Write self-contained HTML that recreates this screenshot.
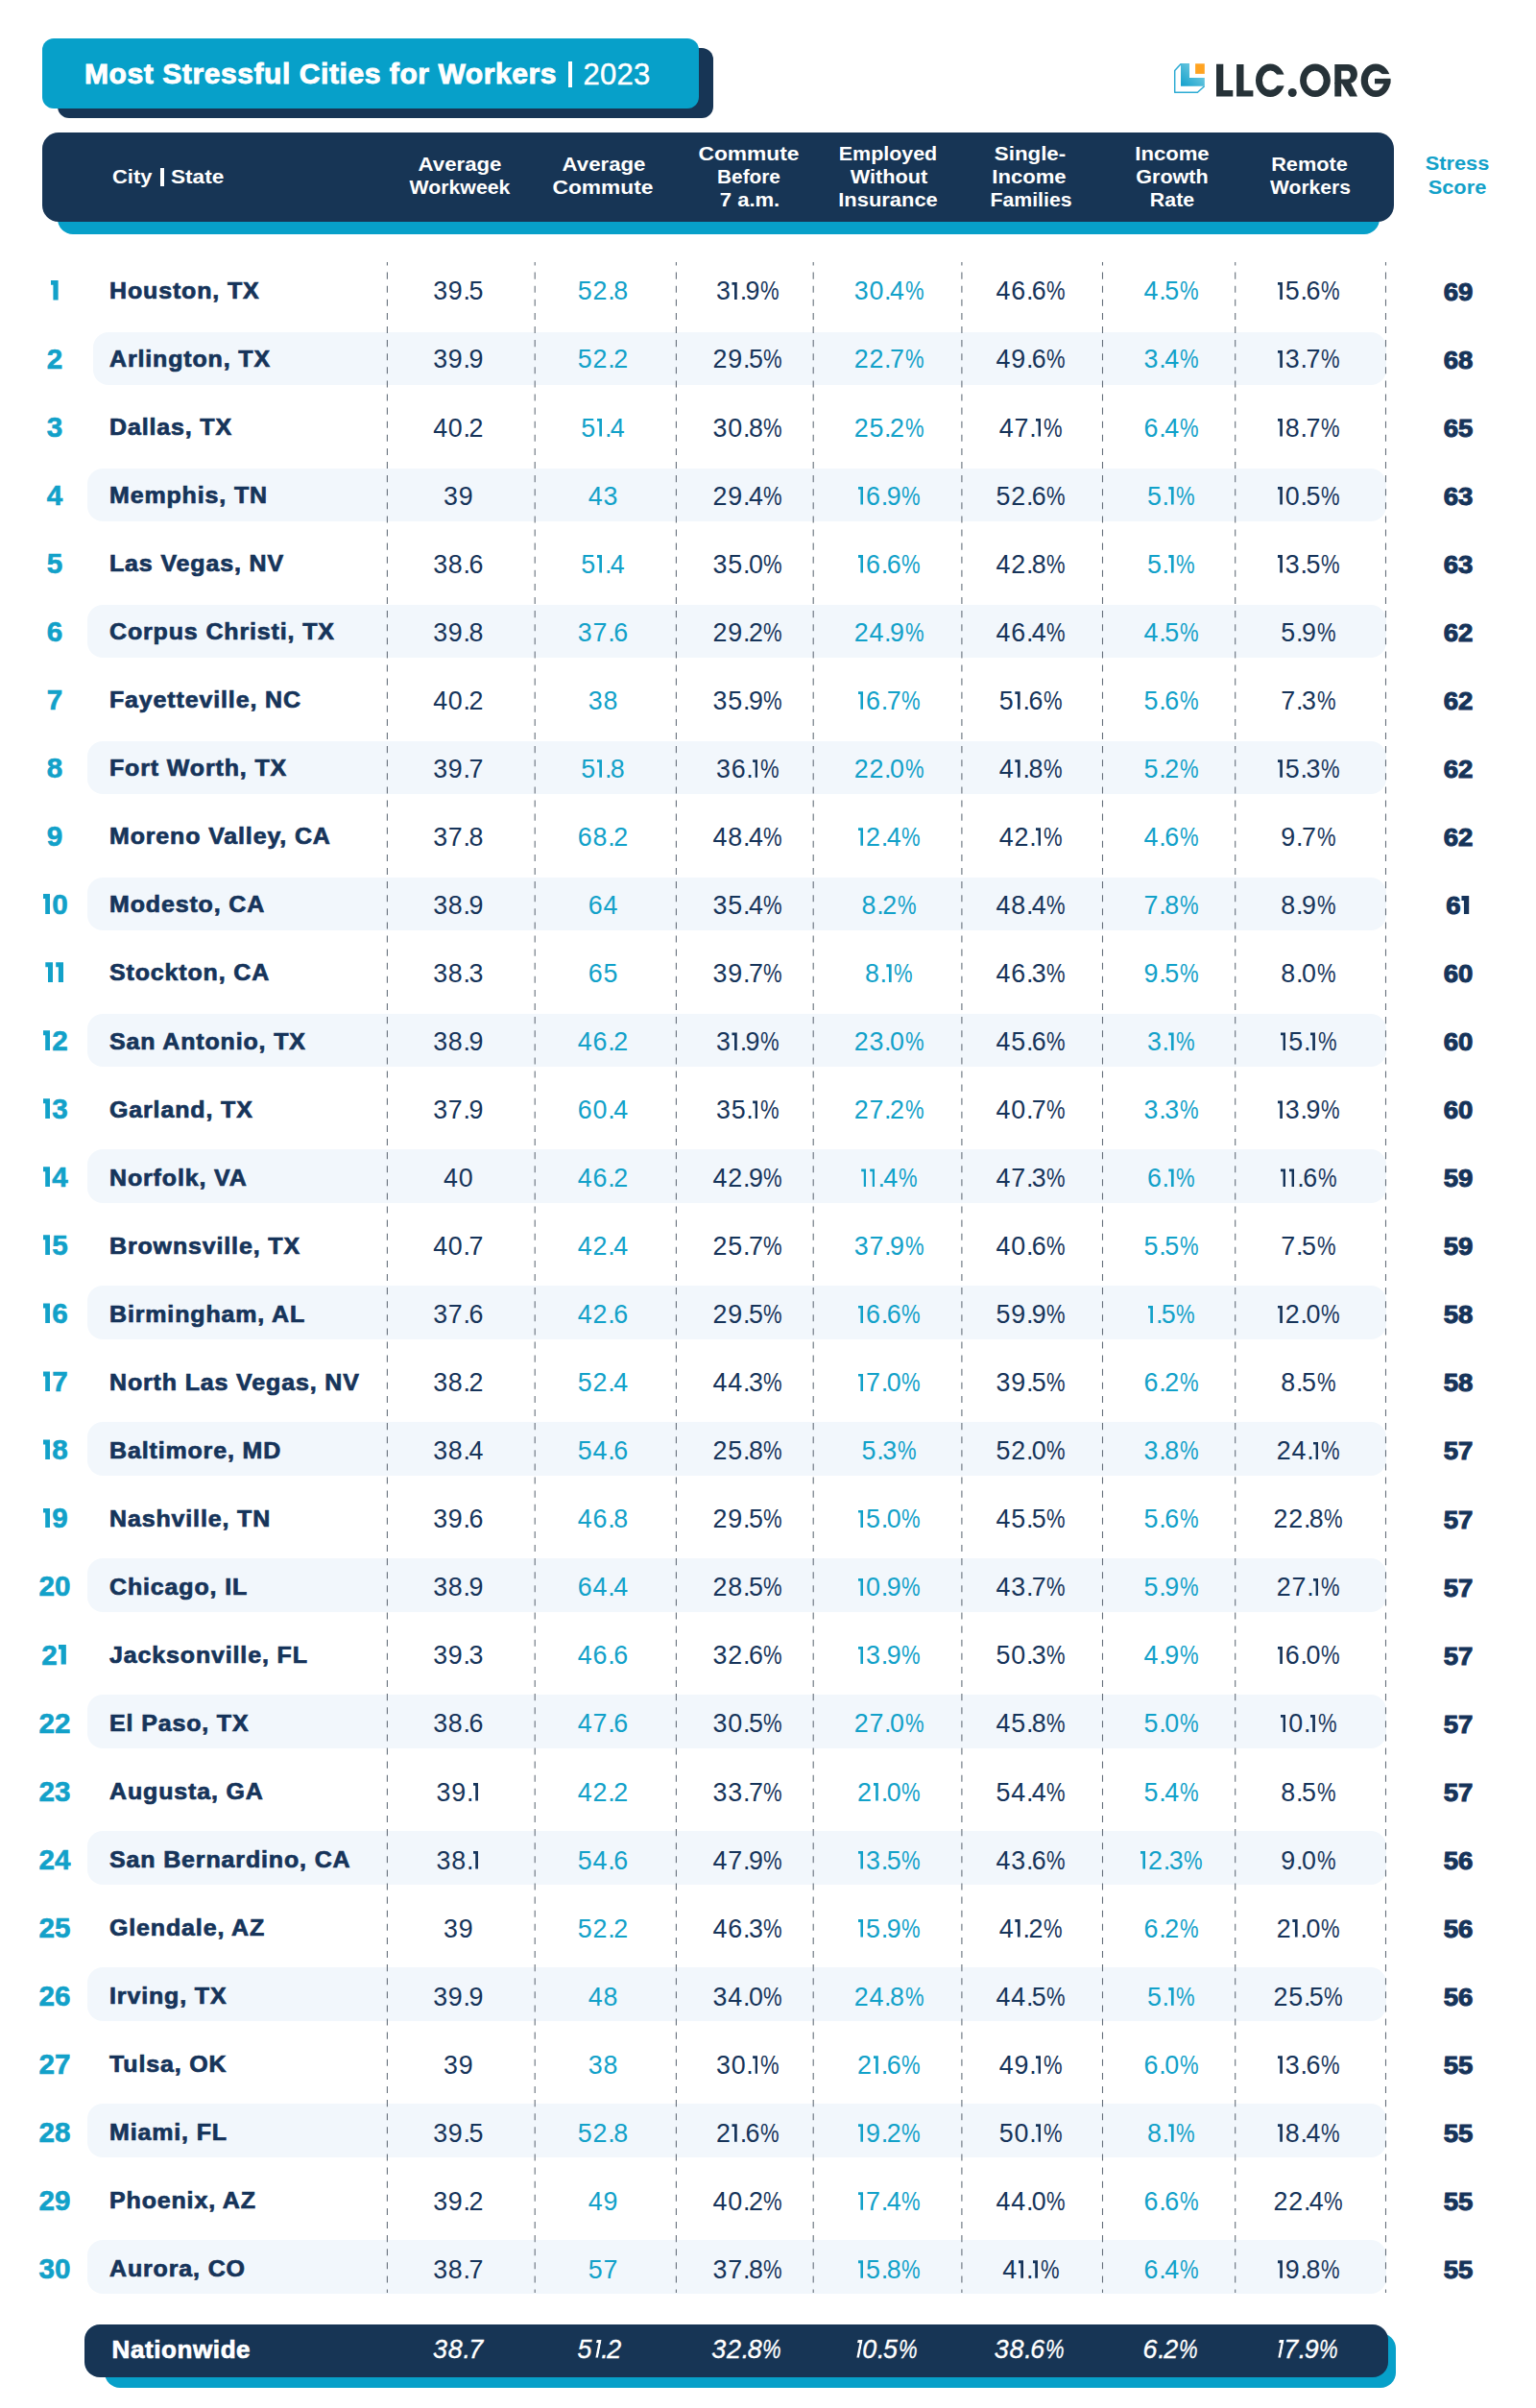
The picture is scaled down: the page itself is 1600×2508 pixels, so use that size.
<!DOCTYPE html>
<html><head><meta charset="utf-8"><title>Most Stressful Cities for Workers 2023</title>
<style>
html,body{margin:0;padding:0;background:#fff;}
body{width:1600px;height:2508px;position:relative;overflow:hidden;font-family:"Liberation Sans",sans-serif;}
.t{position:absolute;line-height:1;white-space:nowrap;}
.r{position:absolute;}
.o{display:inline-block;position:relative;width:9px;height:18.6px;}
.o::before{content:"";position:absolute;left:0.8px;width:5.3px;top:0;bottom:0;background:currentColor;clip-path:polygon(0 0,100% 0,100% 100%,49% 100%,49% 15.6%,0 15.6%);}
.oi{transform:skewX(-11deg);transform-origin:0 100%;}
.b1{display:inline-block;position:relative;width:10.9px;height:20.9px;}
.b1::before{content:"";position:absolute;left:1.2px;width:7.9px;top:0;bottom:0;background:currentColor;clip-path:polygon(0 0,100% 0,100% 100%,34% 100%,34% 24%,0 24%);}
.s1{display:inline-block;position:relative;width:9.6px;height:18.6px;}
.s1::before{content:"";position:absolute;left:0.6px;width:7.8px;top:-0.4px;bottom:-0.3px;background:currentColor;clip-path:polygon(0 0,100% 0,100% 100%,33% 100%,33% 25%,0 25%);}
.d{letter-spacing:0.8px;}
.dt{letter-spacing:-1.5px;}
.p{display:inline-block;transform:scaleX(.82);transform-origin:0 0;margin-right:-4.3px;margin-left:-0.2px;}
</style></head><body>
<div class="r" style="left:60px;top:50px;width:683px;height:73px;border-radius:12px;background:#173555"></div>
<div class="r" style="left:44px;top:40px;width:684px;height:73px;border-radius:12px;background:#07a0c9"></div>
<div class="t" style="left:87.80px;top:62.30px;font-size:29.3px;font-weight:700;color:#fff;letter-spacing:0.54px;font-style:normal;-webkit-text-stroke:0.9px #fff;transform:scaleX(1.026);transform-origin:0 0;">Most Stressful Cities for Workers</div>
<div class="r" style="left:591.7px;top:64.4px;width:4.4px;height:26.9px;background:#fff"></div>
<div class="t" style="left:607.50px;top:61.65px;font-size:31px;font-weight:400;color:#fff;letter-spacing:0.3px;font-style:normal;-webkit-text-stroke:0.45px #fff;">2023</div>
<svg class="r" style="left:1215px;top:55px" width="50" height="50" viewBox="1215 55 50 50">
<defs><linearGradient id="lg" x1="0" y1="1" x2="1" y2="0"><stop offset="0" stop-color="#12a0cc"/><stop offset="1" stop-color="#8ed6e6"/></linearGradient></defs>
<path d="M1230 65.9 H1239 V81 H1254.8 V89.8 H1230 Z" fill="url(#lg)"/>
<path d="M1230.2 66.4 L1223.7 73.6 V96.2 H1247.4 L1254.6 89.8" fill="none" stroke="#2aaad3" stroke-width="1.45" stroke-linejoin="round"/>
<rect x="1245.1" y="66.3" width="9.7" height="10.6" fill="#ffa321"/>
</svg>
<svg class="r" style="left:1260px;top:60px" width="195" height="46" viewBox="1260 60 195 46">
<g fill="#263238">
<path d="M1267 66.7 H1274.3 V94 H1284.3 V100.4 H1267 Z"/>
<path d="M1288.1 66.9 H1295.5 V94.2 H1305.4 V100.4 H1288.1 Z"/>
<path fill-rule="evenodd" d="M1308 83.7 A15.2 17.3 0 1 0 1338.4 83.7 A15.2 17.3 0 1 0 1308 83.7 Z M1315 83.7 A8.3 10.15 0 1 0 1331.6 83.7 A8.3 10.15 0 1 0 1315 83.7 Z"/>
<circle cx="1346.25" cy="96.45" r="4.5"/>
<path fill-rule="evenodd" d="M1354.1 83.75 A15.9 17.25 0 1 0 1385.9 83.75 A15.9 17.25 0 1 0 1354.1 83.75 Z M1360.9 83.95 A8.9 10.25 0 1 0 1378.7 83.95 A8.9 10.25 0 1 0 1360.9 83.95 Z"/>
<path fill-rule="evenodd" d="M1390.3 67 H1404.2 C1410 67 1413.9 71.2 1413.9 77.1 C1413.9 83 1410 87.2 1404.2 87.2 H1390.3 Z M1397.2 73.7 H1403.2 C1405.4 73.7 1406.8 75.6 1406.8 78.15 C1406.8 80.7 1405.4 82.6 1403.2 82.6 H1397.2 Z"/>
<rect x="1390.3" y="86" width="6.9" height="14.5"/>
<path d="M1397.5 86.5 H1407.2 L1414 100.5 H1406 Z"/>
<path fill-rule="evenodd" d="M1417.7 83.75 A15.35 17.25 0 1 0 1448.4 83.75 A15.35 17.25 0 1 0 1417.7 83.75 Z M1424.9 83.95 A8.4 10.25 0 1 0 1441.7 83.95 A8.4 10.25 0 1 0 1424.9 83.95 Z"/>
</g>
<rect x="1322" y="77.6" width="18" height="11.7" fill="#fff"/>
<rect x="1434" y="77.1" width="16" height="4.8" fill="#fff"/>
<rect x="1432" y="81.9" width="16.4" height="5.4" fill="#263238"/>
</svg>
<div class="r" style="left:60px;top:160px;width:1377px;height:83.6px;border-radius:16px;background:#07a0c9"></div>
<div class="r" style="left:44px;top:138px;width:1408px;height:92.6px;border-radius:17px;background:#173555"></div>
<div class="t" style="left:117.00px;top:173.75px;font-size:20.3px;font-weight:700;color:#fff;letter-spacing:0px;font-style:normal;transform:scaleX(1.08);transform-origin:0 0;">City</div>
<div class="r" style="left:167.2px;top:175.4px;width:3.4px;height:18.4px;background:#fff"></div>
<div class="t" style="left:178.00px;top:173.75px;font-size:20.3px;font-weight:700;color:#fff;letter-spacing:0px;font-style:normal;transform:scaleX(1.115);transform-origin:0 0;">State</div>
<div class="t" style="left:178.75px;width:600px;text-align:center;top:160.75px;font-size:20.3px;font-weight:700;color:#fff;letter-spacing:0px;font-style:normal;transform:scaleX(1.096);transform-origin:50% 50%;">Average</div>
<div class="t" style="left:178.50px;width:600px;text-align:center;top:185.25px;font-size:20.3px;font-weight:700;color:#fff;letter-spacing:0px;font-style:normal;transform:scaleX(1.05);transform-origin:50% 50%;">Workweek</div>
<div class="t" style="left:328.75px;width:600px;text-align:center;top:160.75px;font-size:20.3px;font-weight:700;color:#fff;letter-spacing:0px;font-style:normal;transform:scaleX(1.096);transform-origin:50% 50%;">Average</div>
<div class="t" style="left:328.35px;width:600px;text-align:center;top:185.25px;font-size:20.3px;font-weight:700;color:#fff;letter-spacing:0px;font-style:normal;transform:scaleX(1.122);transform-origin:50% 50%;">Commute</div>
<div class="t" style="left:480.30px;width:600px;text-align:center;top:150.25px;font-size:20.3px;font-weight:700;color:#fff;letter-spacing:0px;font-style:normal;transform:scaleX(1.122);transform-origin:50% 50%;">Commute</div>
<div class="t" style="left:480.40px;width:600px;text-align:center;top:174.25px;font-size:20.3px;font-weight:700;color:#fff;letter-spacing:0px;font-style:normal;transform:scaleX(1.025);transform-origin:50% 50%;">Before</div>
<div class="t" style="left:480.50px;width:600px;text-align:center;top:198.15px;font-size:20.3px;font-weight:700;color:#fff;letter-spacing:0px;font-style:normal;transform:scaleX(1.087);transform-origin:50% 50%;">7 a.m.</div>
<div class="t" style="left:625.40px;width:600px;text-align:center;top:150.25px;font-size:20.3px;font-weight:700;color:#fff;letter-spacing:0px;font-style:normal;transform:scaleX(1.057);transform-origin:50% 50%;">Employed</div>
<div class="t" style="left:625.70px;width:600px;text-align:center;top:174.25px;font-size:20.3px;font-weight:700;color:#fff;letter-spacing:0px;font-style:normal;transform:scaleX(1.069);transform-origin:50% 50%;">Without</div>
<div class="t" style="left:625.40px;width:600px;text-align:center;top:198.15px;font-size:20.3px;font-weight:700;color:#fff;letter-spacing:0px;font-style:normal;transform:scaleX(1.081);transform-origin:50% 50%;">Insurance</div>
<div class="t" style="left:773.30px;width:600px;text-align:center;top:150.25px;font-size:20.3px;font-weight:700;color:#fff;letter-spacing:0px;font-style:normal;transform:scaleX(1.1);transform-origin:50% 50%;">Single-</div>
<div class="t" style="left:771.50px;width:600px;text-align:center;top:174.25px;font-size:20.3px;font-weight:700;color:#fff;letter-spacing:0px;font-style:normal;transform:scaleX(1.089);transform-origin:50% 50%;">Income</div>
<div class="t" style="left:773.85px;width:600px;text-align:center;top:198.15px;font-size:20.3px;font-weight:700;color:#fff;letter-spacing:0px;font-style:normal;transform:scaleX(1.049);transform-origin:50% 50%;">Families</div>
<div class="t" style="left:920.50px;width:600px;text-align:center;top:150.25px;font-size:20.3px;font-weight:700;color:#fff;letter-spacing:0px;font-style:normal;transform:scaleX(1.089);transform-origin:50% 50%;">Income</div>
<div class="t" style="left:920.65px;width:600px;text-align:center;top:174.25px;font-size:20.3px;font-weight:700;color:#fff;letter-spacing:0px;font-style:normal;transform:scaleX(1.062);transform-origin:50% 50%;">Growth</div>
<div class="t" style="left:921.10px;width:600px;text-align:center;top:198.15px;font-size:20.3px;font-weight:700;color:#fff;letter-spacing:0px;font-style:normal;transform:scaleX(1.052);transform-origin:50% 50%;">Rate</div>
<div class="t" style="left:1064.45px;width:600px;text-align:center;top:160.75px;font-size:20.3px;font-weight:700;color:#fff;letter-spacing:0px;font-style:normal;transform:scaleX(1.07);transform-origin:50% 50%;">Remote</div>
<div class="t" style="left:1064.50px;width:600px;text-align:center;top:185.25px;font-size:20.3px;font-weight:700;color:#fff;letter-spacing:0px;font-style:normal;transform:scaleX(1.038);transform-origin:50% 50%;">Workers</div>
<div class="t" style="left:1217.85px;width:600px;text-align:center;top:160.25px;font-size:20.3px;font-weight:700;color:#12a1c9;letter-spacing:0px;font-style:normal;transform:scaleX(1.072);transform-origin:50% 50%;">Stress</div>
<div class="t" style="left:1218.20px;width:600px;text-align:center;top:185.44px;font-size:20.3px;font-weight:700;color:#12a1c9;letter-spacing:0px;font-style:normal;transform:scaleX(1.073);transform-origin:50% 50%;">Score</div>
<div class="r" style="left:97px;top:345.70px;width:1346.5px;height:55.8px;border-radius:16px;background:#f2f7fc"></div>
<div class="r" style="left:90.5px;top:487.67px;width:1353.0px;height:55.8px;border-radius:16px;background:#f2f7fc"></div>
<div class="r" style="left:90.5px;top:629.63px;width:1353.0px;height:55.8px;border-radius:16px;background:#f2f7fc"></div>
<div class="r" style="left:90.5px;top:771.60px;width:1353.0px;height:55.8px;border-radius:16px;background:#f2f7fc"></div>
<div class="r" style="left:90.5px;top:913.56px;width:1353.0px;height:55.8px;border-radius:16px;background:#f2f7fc"></div>
<div class="r" style="left:90.5px;top:1055.52px;width:1353.0px;height:55.8px;border-radius:16px;background:#f2f7fc"></div>
<div class="r" style="left:90.5px;top:1197.49px;width:1353.0px;height:55.8px;border-radius:16px;background:#f2f7fc"></div>
<div class="r" style="left:90.5px;top:1339.45px;width:1353.0px;height:55.8px;border-radius:16px;background:#f2f7fc"></div>
<div class="r" style="left:90.5px;top:1481.42px;width:1353.0px;height:55.8px;border-radius:16px;background:#f2f7fc"></div>
<div class="r" style="left:90.5px;top:1623.38px;width:1353.0px;height:55.8px;border-radius:16px;background:#f2f7fc"></div>
<div class="r" style="left:90.5px;top:1765.34px;width:1353.0px;height:55.8px;border-radius:16px;background:#f2f7fc"></div>
<div class="r" style="left:90.5px;top:1907.31px;width:1353.0px;height:55.8px;border-radius:16px;background:#f2f7fc"></div>
<div class="r" style="left:90.5px;top:2049.27px;width:1353.0px;height:55.8px;border-radius:16px;background:#f2f7fc"></div>
<div class="r" style="left:90.5px;top:2191.24px;width:1353.0px;height:55.8px;border-radius:16px;background:#f2f7fc"></div>
<div class="r" style="left:90.5px;top:2333.20px;width:1353.0px;height:55.8px;border-radius:16px;background:#f2f7fc"></div>
<svg class="r" style="left:0;top:0" width="1600" height="2508"><line x1="403.4" y1="273" x2="403.4" y2="2388" stroke="#66707b" stroke-width="1.1" stroke-dasharray="7.05 7.05" stroke-dashoffset="3.5"/><line x1="557.2" y1="273" x2="557.2" y2="2388" stroke="#66707b" stroke-width="1.1" stroke-dasharray="7.05 7.05" stroke-dashoffset="3.5"/><line x1="704.4" y1="273" x2="704.4" y2="2388" stroke="#66707b" stroke-width="1.1" stroke-dasharray="7.05 7.05" stroke-dashoffset="3.5"/><line x1="847.2" y1="273" x2="847.2" y2="2388" stroke="#66707b" stroke-width="1.1" stroke-dasharray="7.05 7.05" stroke-dashoffset="3.5"/><line x1="1001.9" y1="273" x2="1001.9" y2="2388" stroke="#66707b" stroke-width="1.1" stroke-dasharray="7.05 7.05" stroke-dashoffset="3.5"/><line x1="1148.5" y1="273" x2="1148.5" y2="2388" stroke="#66707b" stroke-width="1.1" stroke-dasharray="7.05 7.05" stroke-dashoffset="3.5"/><line x1="1286.7" y1="273" x2="1286.7" y2="2388" stroke="#66707b" stroke-width="1.1" stroke-dasharray="7.05 7.05" stroke-dashoffset="3.5"/><line x1="1443.5" y1="273" x2="1443.5" y2="2388" stroke="#66707b" stroke-width="1.1" stroke-dasharray="7.05 7.05" stroke-dashoffset="3.5"/></svg>
<div class="t" style="left:-243.00px;width:600px;text-align:center;top:287.54px;font-size:29.6px;font-weight:700;color:#12a1c9;letter-spacing:0px;font-style:normal;-webkit-text-stroke:0.6px #12a1c9;"><span class="b1"></span></div>
<div class="t" style="left:113.90px;top:290.99px;font-size:23.9px;font-weight:700;color:#16345a;letter-spacing:0.83px;font-style:normal;-webkit-text-stroke:0.7px #16345a;transform:scaleX(1.045);transform-origin:0 0;">Houston, TX</div>
<div class="t" style="left:177.70px;width:600px;text-align:center;top:290.42px;font-size:26.8px;font-weight:400;color:#16345a;letter-spacing:0px;font-style:normal;"><span class="d">3</span><span class="d">9</span><span class="dt">.</span><span class="d">5</span></div>
<div class="t" style="left:328.40px;width:600px;text-align:center;top:290.42px;font-size:26.8px;font-weight:400;color:#12a1c9;letter-spacing:0px;font-style:normal;"><span class="d">5</span><span class="d">2</span><span class="dt">.</span><span class="d">8</span></div>
<div class="t" style="left:478.80px;width:600px;text-align:center;top:290.42px;font-size:26.8px;font-weight:400;color:#16345a;letter-spacing:0px;font-style:normal;"><span class="d">3</span><span class="o"></span><span class="dt">.</span><span class="d">9</span><span class="p">%</span></div>
<div class="t" style="left:625.90px;width:600px;text-align:center;top:290.42px;font-size:26.8px;font-weight:400;color:#12a1c9;letter-spacing:0px;font-style:normal;"><span class="d">3</span><span class="d">0</span><span class="dt">.</span><span class="d">4</span><span class="p">%</span></div>
<div class="t" style="left:773.70px;width:600px;text-align:center;top:290.42px;font-size:26.8px;font-weight:400;color:#16345a;letter-spacing:0px;font-style:normal;"><span class="d">4</span><span class="d">6</span><span class="dt">.</span><span class="d">6</span><span class="p">%</span></div>
<div class="t" style="left:919.90px;width:600px;text-align:center;top:290.42px;font-size:26.8px;font-weight:400;color:#12a1c9;letter-spacing:0px;font-style:normal;"><span class="d">4</span><span class="dt">.</span><span class="d">5</span><span class="p">%</span></div>
<div class="t" style="left:1062.70px;width:600px;text-align:center;top:290.42px;font-size:26.8px;font-weight:400;color:#16345a;letter-spacing:0px;font-style:normal;"><span class="o"></span><span class="d">5</span><span class="dt">.</span><span class="d">6</span><span class="p">%</span></div>
<div class="t" style="left:1218.50px;width:600px;text-align:center;top:290.60px;font-size:26px;font-weight:700;color:#16345a;letter-spacing:0px;font-style:normal;-webkit-text-stroke:1.0px #16345a;transform:scaleX(1.06);transform-origin:50% 50%;">69</div>
<div class="t" style="left:-243.00px;width:600px;text-align:center;top:358.59px;font-size:29.6px;font-weight:700;color:#12a1c9;letter-spacing:0px;font-style:normal;-webkit-text-stroke:0.6px #12a1c9;">2</div>
<div class="t" style="left:113.90px;top:362.04px;font-size:23.9px;font-weight:700;color:#16345a;letter-spacing:0.83px;font-style:normal;-webkit-text-stroke:0.7px #16345a;transform:scaleX(1.045);transform-origin:0 0;">Arlington, TX</div>
<div class="t" style="left:177.70px;width:600px;text-align:center;top:361.47px;font-size:26.8px;font-weight:400;color:#16345a;letter-spacing:0px;font-style:normal;"><span class="d">3</span><span class="d">9</span><span class="dt">.</span><span class="d">9</span></div>
<div class="t" style="left:328.40px;width:600px;text-align:center;top:361.47px;font-size:26.8px;font-weight:400;color:#12a1c9;letter-spacing:0px;font-style:normal;"><span class="d">5</span><span class="d">2</span><span class="dt">.</span><span class="d">2</span></div>
<div class="t" style="left:478.80px;width:600px;text-align:center;top:361.47px;font-size:26.8px;font-weight:400;color:#16345a;letter-spacing:0px;font-style:normal;"><span class="d">2</span><span class="d">9</span><span class="dt">.</span><span class="d">5</span><span class="p">%</span></div>
<div class="t" style="left:625.90px;width:600px;text-align:center;top:361.47px;font-size:26.8px;font-weight:400;color:#12a1c9;letter-spacing:0px;font-style:normal;"><span class="d">2</span><span class="d">2</span><span class="dt">.</span><span class="d">7</span><span class="p">%</span></div>
<div class="t" style="left:773.70px;width:600px;text-align:center;top:361.47px;font-size:26.8px;font-weight:400;color:#16345a;letter-spacing:0px;font-style:normal;"><span class="d">4</span><span class="d">9</span><span class="dt">.</span><span class="d">6</span><span class="p">%</span></div>
<div class="t" style="left:919.90px;width:600px;text-align:center;top:361.47px;font-size:26.8px;font-weight:400;color:#12a1c9;letter-spacing:0px;font-style:normal;"><span class="d">3</span><span class="dt">.</span><span class="d">4</span><span class="p">%</span></div>
<div class="t" style="left:1062.70px;width:600px;text-align:center;top:361.47px;font-size:26.8px;font-weight:400;color:#16345a;letter-spacing:0px;font-style:normal;"><span class="o"></span><span class="d">3</span><span class="dt">.</span><span class="d">7</span><span class="p">%</span></div>
<div class="t" style="left:1218.50px;width:600px;text-align:center;top:361.65px;font-size:26px;font-weight:700;color:#16345a;letter-spacing:0px;font-style:normal;-webkit-text-stroke:1.0px #16345a;transform:scaleX(1.06);transform-origin:50% 50%;">68</div>
<div class="t" style="left:-243.00px;width:600px;text-align:center;top:429.64px;font-size:29.6px;font-weight:700;color:#12a1c9;letter-spacing:0px;font-style:normal;-webkit-text-stroke:0.6px #12a1c9;">3</div>
<div class="t" style="left:113.90px;top:433.08px;font-size:23.9px;font-weight:700;color:#16345a;letter-spacing:0.83px;font-style:normal;-webkit-text-stroke:0.7px #16345a;transform:scaleX(1.045);transform-origin:0 0;">Dallas, TX</div>
<div class="t" style="left:177.70px;width:600px;text-align:center;top:432.52px;font-size:26.8px;font-weight:400;color:#16345a;letter-spacing:0px;font-style:normal;"><span class="d">4</span><span class="d">0</span><span class="dt">.</span><span class="d">2</span></div>
<div class="t" style="left:328.40px;width:600px;text-align:center;top:432.52px;font-size:26.8px;font-weight:400;color:#12a1c9;letter-spacing:0px;font-style:normal;"><span class="d">5</span><span class="o"></span><span class="dt">.</span><span class="d">4</span></div>
<div class="t" style="left:478.80px;width:600px;text-align:center;top:432.52px;font-size:26.8px;font-weight:400;color:#16345a;letter-spacing:0px;font-style:normal;"><span class="d">3</span><span class="d">0</span><span class="dt">.</span><span class="d">8</span><span class="p">%</span></div>
<div class="t" style="left:625.90px;width:600px;text-align:center;top:432.52px;font-size:26.8px;font-weight:400;color:#12a1c9;letter-spacing:0px;font-style:normal;"><span class="d">2</span><span class="d">5</span><span class="dt">.</span><span class="d">2</span><span class="p">%</span></div>
<div class="t" style="left:773.70px;width:600px;text-align:center;top:432.52px;font-size:26.8px;font-weight:400;color:#16345a;letter-spacing:0px;font-style:normal;"><span class="d">4</span><span class="d">7</span><span class="dt">.</span><span class="o"></span><span class="p">%</span></div>
<div class="t" style="left:919.90px;width:600px;text-align:center;top:432.52px;font-size:26.8px;font-weight:400;color:#12a1c9;letter-spacing:0px;font-style:normal;"><span class="d">6</span><span class="dt">.</span><span class="d">4</span><span class="p">%</span></div>
<div class="t" style="left:1062.70px;width:600px;text-align:center;top:432.52px;font-size:26.8px;font-weight:400;color:#16345a;letter-spacing:0px;font-style:normal;"><span class="o"></span><span class="d">8</span><span class="dt">.</span><span class="d">7</span><span class="p">%</span></div>
<div class="t" style="left:1218.50px;width:600px;text-align:center;top:432.70px;font-size:26px;font-weight:700;color:#16345a;letter-spacing:0px;font-style:normal;-webkit-text-stroke:1.0px #16345a;transform:scaleX(1.06);transform-origin:50% 50%;">65</div>
<div class="t" style="left:-243.00px;width:600px;text-align:center;top:500.69px;font-size:29.6px;font-weight:700;color:#12a1c9;letter-spacing:0px;font-style:normal;-webkit-text-stroke:0.6px #12a1c9;">4</div>
<div class="t" style="left:113.90px;top:504.14px;font-size:23.9px;font-weight:700;color:#16345a;letter-spacing:0.83px;font-style:normal;-webkit-text-stroke:0.7px #16345a;transform:scaleX(1.045);transform-origin:0 0;">Memphis, TN</div>
<div class="t" style="left:177.70px;width:600px;text-align:center;top:503.57px;font-size:26.8px;font-weight:400;color:#16345a;letter-spacing:0px;font-style:normal;"><span class="d">3</span><span class="d">9</span></div>
<div class="t" style="left:328.40px;width:600px;text-align:center;top:503.57px;font-size:26.8px;font-weight:400;color:#12a1c9;letter-spacing:0px;font-style:normal;"><span class="d">4</span><span class="d">3</span></div>
<div class="t" style="left:478.80px;width:600px;text-align:center;top:503.57px;font-size:26.8px;font-weight:400;color:#16345a;letter-spacing:0px;font-style:normal;"><span class="d">2</span><span class="d">9</span><span class="dt">.</span><span class="d">4</span><span class="p">%</span></div>
<div class="t" style="left:625.90px;width:600px;text-align:center;top:503.57px;font-size:26.8px;font-weight:400;color:#12a1c9;letter-spacing:0px;font-style:normal;"><span class="o"></span><span class="d">6</span><span class="dt">.</span><span class="d">9</span><span class="p">%</span></div>
<div class="t" style="left:773.70px;width:600px;text-align:center;top:503.57px;font-size:26.8px;font-weight:400;color:#16345a;letter-spacing:0px;font-style:normal;"><span class="d">5</span><span class="d">2</span><span class="dt">.</span><span class="d">6</span><span class="p">%</span></div>
<div class="t" style="left:919.90px;width:600px;text-align:center;top:503.57px;font-size:26.8px;font-weight:400;color:#12a1c9;letter-spacing:0px;font-style:normal;"><span class="d">5</span><span class="dt">.</span><span class="o"></span><span class="p">%</span></div>
<div class="t" style="left:1062.70px;width:600px;text-align:center;top:503.57px;font-size:26.8px;font-weight:400;color:#16345a;letter-spacing:0px;font-style:normal;"><span class="o"></span><span class="d">0</span><span class="dt">.</span><span class="d">5</span><span class="p">%</span></div>
<div class="t" style="left:1218.50px;width:600px;text-align:center;top:503.75px;font-size:26px;font-weight:700;color:#16345a;letter-spacing:0px;font-style:normal;-webkit-text-stroke:1.0px #16345a;transform:scaleX(1.06);transform-origin:50% 50%;">63</div>
<div class="t" style="left:-243.00px;width:600px;text-align:center;top:571.74px;font-size:29.6px;font-weight:700;color:#12a1c9;letter-spacing:0px;font-style:normal;-webkit-text-stroke:0.6px #12a1c9;">5</div>
<div class="t" style="left:113.90px;top:575.18px;font-size:23.9px;font-weight:700;color:#16345a;letter-spacing:0.83px;font-style:normal;-webkit-text-stroke:0.7px #16345a;transform:scaleX(1.045);transform-origin:0 0;">Las Vegas, NV</div>
<div class="t" style="left:177.70px;width:600px;text-align:center;top:574.62px;font-size:26.8px;font-weight:400;color:#16345a;letter-spacing:0px;font-style:normal;"><span class="d">3</span><span class="d">8</span><span class="dt">.</span><span class="d">6</span></div>
<div class="t" style="left:328.40px;width:600px;text-align:center;top:574.62px;font-size:26.8px;font-weight:400;color:#12a1c9;letter-spacing:0px;font-style:normal;"><span class="d">5</span><span class="o"></span><span class="dt">.</span><span class="d">4</span></div>
<div class="t" style="left:478.80px;width:600px;text-align:center;top:574.62px;font-size:26.8px;font-weight:400;color:#16345a;letter-spacing:0px;font-style:normal;"><span class="d">3</span><span class="d">5</span><span class="dt">.</span><span class="d">0</span><span class="p">%</span></div>
<div class="t" style="left:625.90px;width:600px;text-align:center;top:574.62px;font-size:26.8px;font-weight:400;color:#12a1c9;letter-spacing:0px;font-style:normal;"><span class="o"></span><span class="d">6</span><span class="dt">.</span><span class="d">6</span><span class="p">%</span></div>
<div class="t" style="left:773.70px;width:600px;text-align:center;top:574.62px;font-size:26.8px;font-weight:400;color:#16345a;letter-spacing:0px;font-style:normal;"><span class="d">4</span><span class="d">2</span><span class="dt">.</span><span class="d">8</span><span class="p">%</span></div>
<div class="t" style="left:919.90px;width:600px;text-align:center;top:574.62px;font-size:26.8px;font-weight:400;color:#12a1c9;letter-spacing:0px;font-style:normal;"><span class="d">5</span><span class="dt">.</span><span class="o"></span><span class="p">%</span></div>
<div class="t" style="left:1062.70px;width:600px;text-align:center;top:574.62px;font-size:26.8px;font-weight:400;color:#16345a;letter-spacing:0px;font-style:normal;"><span class="o"></span><span class="d">3</span><span class="dt">.</span><span class="d">5</span><span class="p">%</span></div>
<div class="t" style="left:1218.50px;width:600px;text-align:center;top:574.80px;font-size:26px;font-weight:700;color:#16345a;letter-spacing:0px;font-style:normal;-webkit-text-stroke:1.0px #16345a;transform:scaleX(1.06);transform-origin:50% 50%;">63</div>
<div class="t" style="left:-243.00px;width:600px;text-align:center;top:642.79px;font-size:29.6px;font-weight:700;color:#12a1c9;letter-spacing:0px;font-style:normal;-webkit-text-stroke:0.6px #12a1c9;">6</div>
<div class="t" style="left:113.90px;top:646.23px;font-size:23.9px;font-weight:700;color:#16345a;letter-spacing:0.83px;font-style:normal;-webkit-text-stroke:0.7px #16345a;transform:scaleX(1.045);transform-origin:0 0;">Corpus Christi, TX</div>
<div class="t" style="left:177.70px;width:600px;text-align:center;top:645.67px;font-size:26.8px;font-weight:400;color:#16345a;letter-spacing:0px;font-style:normal;"><span class="d">3</span><span class="d">9</span><span class="dt">.</span><span class="d">8</span></div>
<div class="t" style="left:328.40px;width:600px;text-align:center;top:645.67px;font-size:26.8px;font-weight:400;color:#12a1c9;letter-spacing:0px;font-style:normal;"><span class="d">3</span><span class="d">7</span><span class="dt">.</span><span class="d">6</span></div>
<div class="t" style="left:478.80px;width:600px;text-align:center;top:645.67px;font-size:26.8px;font-weight:400;color:#16345a;letter-spacing:0px;font-style:normal;"><span class="d">2</span><span class="d">9</span><span class="dt">.</span><span class="d">2</span><span class="p">%</span></div>
<div class="t" style="left:625.90px;width:600px;text-align:center;top:645.67px;font-size:26.8px;font-weight:400;color:#12a1c9;letter-spacing:0px;font-style:normal;"><span class="d">2</span><span class="d">4</span><span class="dt">.</span><span class="d">9</span><span class="p">%</span></div>
<div class="t" style="left:773.70px;width:600px;text-align:center;top:645.67px;font-size:26.8px;font-weight:400;color:#16345a;letter-spacing:0px;font-style:normal;"><span class="d">4</span><span class="d">6</span><span class="dt">.</span><span class="d">4</span><span class="p">%</span></div>
<div class="t" style="left:919.90px;width:600px;text-align:center;top:645.67px;font-size:26.8px;font-weight:400;color:#12a1c9;letter-spacing:0px;font-style:normal;"><span class="d">4</span><span class="dt">.</span><span class="d">5</span><span class="p">%</span></div>
<div class="t" style="left:1062.70px;width:600px;text-align:center;top:645.67px;font-size:26.8px;font-weight:400;color:#16345a;letter-spacing:0px;font-style:normal;"><span class="d">5</span><span class="dt">.</span><span class="d">9</span><span class="p">%</span></div>
<div class="t" style="left:1218.50px;width:600px;text-align:center;top:645.85px;font-size:26px;font-weight:700;color:#16345a;letter-spacing:0px;font-style:normal;-webkit-text-stroke:1.0px #16345a;transform:scaleX(1.06);transform-origin:50% 50%;">62</div>
<div class="t" style="left:-243.00px;width:600px;text-align:center;top:713.84px;font-size:29.6px;font-weight:700;color:#12a1c9;letter-spacing:0px;font-style:normal;-webkit-text-stroke:0.6px #12a1c9;">7</div>
<div class="t" style="left:113.90px;top:717.28px;font-size:23.9px;font-weight:700;color:#16345a;letter-spacing:0.83px;font-style:normal;-webkit-text-stroke:0.7px #16345a;transform:scaleX(1.045);transform-origin:0 0;">Fayetteville, NC</div>
<div class="t" style="left:177.70px;width:600px;text-align:center;top:716.72px;font-size:26.8px;font-weight:400;color:#16345a;letter-spacing:0px;font-style:normal;"><span class="d">4</span><span class="d">0</span><span class="dt">.</span><span class="d">2</span></div>
<div class="t" style="left:328.40px;width:600px;text-align:center;top:716.72px;font-size:26.8px;font-weight:400;color:#12a1c9;letter-spacing:0px;font-style:normal;"><span class="d">3</span><span class="d">8</span></div>
<div class="t" style="left:478.80px;width:600px;text-align:center;top:716.72px;font-size:26.8px;font-weight:400;color:#16345a;letter-spacing:0px;font-style:normal;"><span class="d">3</span><span class="d">5</span><span class="dt">.</span><span class="d">9</span><span class="p">%</span></div>
<div class="t" style="left:625.90px;width:600px;text-align:center;top:716.72px;font-size:26.8px;font-weight:400;color:#12a1c9;letter-spacing:0px;font-style:normal;"><span class="o"></span><span class="d">6</span><span class="dt">.</span><span class="d">7</span><span class="p">%</span></div>
<div class="t" style="left:773.70px;width:600px;text-align:center;top:716.72px;font-size:26.8px;font-weight:400;color:#16345a;letter-spacing:0px;font-style:normal;"><span class="d">5</span><span class="o"></span><span class="dt">.</span><span class="d">6</span><span class="p">%</span></div>
<div class="t" style="left:919.90px;width:600px;text-align:center;top:716.72px;font-size:26.8px;font-weight:400;color:#12a1c9;letter-spacing:0px;font-style:normal;"><span class="d">5</span><span class="dt">.</span><span class="d">6</span><span class="p">%</span></div>
<div class="t" style="left:1062.70px;width:600px;text-align:center;top:716.72px;font-size:26.8px;font-weight:400;color:#16345a;letter-spacing:0px;font-style:normal;"><span class="d">7</span><span class="dt">.</span><span class="d">3</span><span class="p">%</span></div>
<div class="t" style="left:1218.50px;width:600px;text-align:center;top:716.90px;font-size:26px;font-weight:700;color:#16345a;letter-spacing:0px;font-style:normal;-webkit-text-stroke:1.0px #16345a;transform:scaleX(1.06);transform-origin:50% 50%;">62</div>
<div class="t" style="left:-243.00px;width:600px;text-align:center;top:784.89px;font-size:29.6px;font-weight:700;color:#12a1c9;letter-spacing:0px;font-style:normal;-webkit-text-stroke:0.6px #12a1c9;">8</div>
<div class="t" style="left:113.90px;top:788.34px;font-size:23.9px;font-weight:700;color:#16345a;letter-spacing:0.83px;font-style:normal;-webkit-text-stroke:0.7px #16345a;transform:scaleX(1.045);transform-origin:0 0;">Fort Worth, TX</div>
<div class="t" style="left:177.70px;width:600px;text-align:center;top:787.77px;font-size:26.8px;font-weight:400;color:#16345a;letter-spacing:0px;font-style:normal;"><span class="d">3</span><span class="d">9</span><span class="dt">.</span><span class="d">7</span></div>
<div class="t" style="left:328.40px;width:600px;text-align:center;top:787.77px;font-size:26.8px;font-weight:400;color:#12a1c9;letter-spacing:0px;font-style:normal;"><span class="d">5</span><span class="o"></span><span class="dt">.</span><span class="d">8</span></div>
<div class="t" style="left:478.80px;width:600px;text-align:center;top:787.77px;font-size:26.8px;font-weight:400;color:#16345a;letter-spacing:0px;font-style:normal;"><span class="d">3</span><span class="d">6</span><span class="dt">.</span><span class="o"></span><span class="p">%</span></div>
<div class="t" style="left:625.90px;width:600px;text-align:center;top:787.77px;font-size:26.8px;font-weight:400;color:#12a1c9;letter-spacing:0px;font-style:normal;"><span class="d">2</span><span class="d">2</span><span class="dt">.</span><span class="d">0</span><span class="p">%</span></div>
<div class="t" style="left:773.70px;width:600px;text-align:center;top:787.77px;font-size:26.8px;font-weight:400;color:#16345a;letter-spacing:0px;font-style:normal;"><span class="d">4</span><span class="o"></span><span class="dt">.</span><span class="d">8</span><span class="p">%</span></div>
<div class="t" style="left:919.90px;width:600px;text-align:center;top:787.77px;font-size:26.8px;font-weight:400;color:#12a1c9;letter-spacing:0px;font-style:normal;"><span class="d">5</span><span class="dt">.</span><span class="d">2</span><span class="p">%</span></div>
<div class="t" style="left:1062.70px;width:600px;text-align:center;top:787.77px;font-size:26.8px;font-weight:400;color:#16345a;letter-spacing:0px;font-style:normal;"><span class="o"></span><span class="d">5</span><span class="dt">.</span><span class="d">3</span><span class="p">%</span></div>
<div class="t" style="left:1218.50px;width:600px;text-align:center;top:787.95px;font-size:26px;font-weight:700;color:#16345a;letter-spacing:0px;font-style:normal;-webkit-text-stroke:1.0px #16345a;transform:scaleX(1.06);transform-origin:50% 50%;">62</div>
<div class="t" style="left:-243.00px;width:600px;text-align:center;top:855.94px;font-size:29.6px;font-weight:700;color:#12a1c9;letter-spacing:0px;font-style:normal;-webkit-text-stroke:0.6px #12a1c9;">9</div>
<div class="t" style="left:113.90px;top:859.38px;font-size:23.9px;font-weight:700;color:#16345a;letter-spacing:0.83px;font-style:normal;-webkit-text-stroke:0.7px #16345a;transform:scaleX(1.045);transform-origin:0 0;">Moreno Valley, CA</div>
<div class="t" style="left:177.70px;width:600px;text-align:center;top:858.82px;font-size:26.8px;font-weight:400;color:#16345a;letter-spacing:0px;font-style:normal;"><span class="d">3</span><span class="d">7</span><span class="dt">.</span><span class="d">8</span></div>
<div class="t" style="left:328.40px;width:600px;text-align:center;top:858.82px;font-size:26.8px;font-weight:400;color:#12a1c9;letter-spacing:0px;font-style:normal;"><span class="d">6</span><span class="d">8</span><span class="dt">.</span><span class="d">2</span></div>
<div class="t" style="left:478.80px;width:600px;text-align:center;top:858.82px;font-size:26.8px;font-weight:400;color:#16345a;letter-spacing:0px;font-style:normal;"><span class="d">4</span><span class="d">8</span><span class="dt">.</span><span class="d">4</span><span class="p">%</span></div>
<div class="t" style="left:625.90px;width:600px;text-align:center;top:858.82px;font-size:26.8px;font-weight:400;color:#12a1c9;letter-spacing:0px;font-style:normal;"><span class="o"></span><span class="d">2</span><span class="dt">.</span><span class="d">4</span><span class="p">%</span></div>
<div class="t" style="left:773.70px;width:600px;text-align:center;top:858.82px;font-size:26.8px;font-weight:400;color:#16345a;letter-spacing:0px;font-style:normal;"><span class="d">4</span><span class="d">2</span><span class="dt">.</span><span class="o"></span><span class="p">%</span></div>
<div class="t" style="left:919.90px;width:600px;text-align:center;top:858.82px;font-size:26.8px;font-weight:400;color:#12a1c9;letter-spacing:0px;font-style:normal;"><span class="d">4</span><span class="dt">.</span><span class="d">6</span><span class="p">%</span></div>
<div class="t" style="left:1062.70px;width:600px;text-align:center;top:858.82px;font-size:26.8px;font-weight:400;color:#16345a;letter-spacing:0px;font-style:normal;"><span class="d">9</span><span class="dt">.</span><span class="d">7</span><span class="p">%</span></div>
<div class="t" style="left:1218.50px;width:600px;text-align:center;top:859.00px;font-size:26px;font-weight:700;color:#16345a;letter-spacing:0px;font-style:normal;-webkit-text-stroke:1.0px #16345a;transform:scaleX(1.06);transform-origin:50% 50%;">62</div>
<div class="t" style="left:-243.00px;width:600px;text-align:center;top:926.99px;font-size:29.6px;font-weight:700;color:#12a1c9;letter-spacing:0px;font-style:normal;-webkit-text-stroke:0.6px #12a1c9;"><span class="b1"></span>0</div>
<div class="t" style="left:113.90px;top:930.43px;font-size:23.9px;font-weight:700;color:#16345a;letter-spacing:0.83px;font-style:normal;-webkit-text-stroke:0.7px #16345a;transform:scaleX(1.045);transform-origin:0 0;">Modesto, CA</div>
<div class="t" style="left:177.70px;width:600px;text-align:center;top:929.87px;font-size:26.8px;font-weight:400;color:#16345a;letter-spacing:0px;font-style:normal;"><span class="d">3</span><span class="d">8</span><span class="dt">.</span><span class="d">9</span></div>
<div class="t" style="left:328.40px;width:600px;text-align:center;top:929.87px;font-size:26.8px;font-weight:400;color:#12a1c9;letter-spacing:0px;font-style:normal;"><span class="d">6</span><span class="d">4</span></div>
<div class="t" style="left:478.80px;width:600px;text-align:center;top:929.87px;font-size:26.8px;font-weight:400;color:#16345a;letter-spacing:0px;font-style:normal;"><span class="d">3</span><span class="d">5</span><span class="dt">.</span><span class="d">4</span><span class="p">%</span></div>
<div class="t" style="left:625.90px;width:600px;text-align:center;top:929.87px;font-size:26.8px;font-weight:400;color:#12a1c9;letter-spacing:0px;font-style:normal;"><span class="d">8</span><span class="dt">.</span><span class="d">2</span><span class="p">%</span></div>
<div class="t" style="left:773.70px;width:600px;text-align:center;top:929.87px;font-size:26.8px;font-weight:400;color:#16345a;letter-spacing:0px;font-style:normal;"><span class="d">4</span><span class="d">8</span><span class="dt">.</span><span class="d">4</span><span class="p">%</span></div>
<div class="t" style="left:919.90px;width:600px;text-align:center;top:929.87px;font-size:26.8px;font-weight:400;color:#12a1c9;letter-spacing:0px;font-style:normal;"><span class="d">7</span><span class="dt">.</span><span class="d">8</span><span class="p">%</span></div>
<div class="t" style="left:1062.70px;width:600px;text-align:center;top:929.87px;font-size:26.8px;font-weight:400;color:#16345a;letter-spacing:0px;font-style:normal;"><span class="d">8</span><span class="dt">.</span><span class="d">9</span><span class="p">%</span></div>
<div class="t" style="left:1218.50px;width:600px;text-align:center;top:930.05px;font-size:26px;font-weight:700;color:#16345a;letter-spacing:0px;font-style:normal;-webkit-text-stroke:1.0px #16345a;transform:scaleX(1.06);transform-origin:50% 50%;">6<span class="s1"></span></div>
<div class="t" style="left:-243.00px;width:600px;text-align:center;top:998.04px;font-size:29.6px;font-weight:700;color:#12a1c9;letter-spacing:0px;font-style:normal;-webkit-text-stroke:0.6px #12a1c9;"><span class="b1"></span><span class="b1"></span></div>
<div class="t" style="left:113.90px;top:1001.48px;font-size:23.9px;font-weight:700;color:#16345a;letter-spacing:0.83px;font-style:normal;-webkit-text-stroke:0.7px #16345a;transform:scaleX(1.045);transform-origin:0 0;">Stockton, CA</div>
<div class="t" style="left:177.70px;width:600px;text-align:center;top:1000.92px;font-size:26.8px;font-weight:400;color:#16345a;letter-spacing:0px;font-style:normal;"><span class="d">3</span><span class="d">8</span><span class="dt">.</span><span class="d">3</span></div>
<div class="t" style="left:328.40px;width:600px;text-align:center;top:1000.92px;font-size:26.8px;font-weight:400;color:#12a1c9;letter-spacing:0px;font-style:normal;"><span class="d">6</span><span class="d">5</span></div>
<div class="t" style="left:478.80px;width:600px;text-align:center;top:1000.92px;font-size:26.8px;font-weight:400;color:#16345a;letter-spacing:0px;font-style:normal;"><span class="d">3</span><span class="d">9</span><span class="dt">.</span><span class="d">7</span><span class="p">%</span></div>
<div class="t" style="left:625.90px;width:600px;text-align:center;top:1000.92px;font-size:26.8px;font-weight:400;color:#12a1c9;letter-spacing:0px;font-style:normal;"><span class="d">8</span><span class="dt">.</span><span class="o"></span><span class="p">%</span></div>
<div class="t" style="left:773.70px;width:600px;text-align:center;top:1000.92px;font-size:26.8px;font-weight:400;color:#16345a;letter-spacing:0px;font-style:normal;"><span class="d">4</span><span class="d">6</span><span class="dt">.</span><span class="d">3</span><span class="p">%</span></div>
<div class="t" style="left:919.90px;width:600px;text-align:center;top:1000.92px;font-size:26.8px;font-weight:400;color:#12a1c9;letter-spacing:0px;font-style:normal;"><span class="d">9</span><span class="dt">.</span><span class="d">5</span><span class="p">%</span></div>
<div class="t" style="left:1062.70px;width:600px;text-align:center;top:1000.92px;font-size:26.8px;font-weight:400;color:#16345a;letter-spacing:0px;font-style:normal;"><span class="d">8</span><span class="dt">.</span><span class="d">0</span><span class="p">%</span></div>
<div class="t" style="left:1218.50px;width:600px;text-align:center;top:1001.10px;font-size:26px;font-weight:700;color:#16345a;letter-spacing:0px;font-style:normal;-webkit-text-stroke:1.0px #16345a;transform:scaleX(1.06);transform-origin:50% 50%;">60</div>
<div class="t" style="left:-243.00px;width:600px;text-align:center;top:1069.09px;font-size:29.6px;font-weight:700;color:#12a1c9;letter-spacing:0px;font-style:normal;-webkit-text-stroke:0.6px #12a1c9;"><span class="b1"></span>2</div>
<div class="t" style="left:113.90px;top:1072.53px;font-size:23.9px;font-weight:700;color:#16345a;letter-spacing:0.83px;font-style:normal;-webkit-text-stroke:0.7px #16345a;transform:scaleX(1.045);transform-origin:0 0;">San Antonio, TX</div>
<div class="t" style="left:177.70px;width:600px;text-align:center;top:1071.97px;font-size:26.8px;font-weight:400;color:#16345a;letter-spacing:0px;font-style:normal;"><span class="d">3</span><span class="d">8</span><span class="dt">.</span><span class="d">9</span></div>
<div class="t" style="left:328.40px;width:600px;text-align:center;top:1071.97px;font-size:26.8px;font-weight:400;color:#12a1c9;letter-spacing:0px;font-style:normal;"><span class="d">4</span><span class="d">6</span><span class="dt">.</span><span class="d">2</span></div>
<div class="t" style="left:478.80px;width:600px;text-align:center;top:1071.97px;font-size:26.8px;font-weight:400;color:#16345a;letter-spacing:0px;font-style:normal;"><span class="d">3</span><span class="o"></span><span class="dt">.</span><span class="d">9</span><span class="p">%</span></div>
<div class="t" style="left:625.90px;width:600px;text-align:center;top:1071.97px;font-size:26.8px;font-weight:400;color:#12a1c9;letter-spacing:0px;font-style:normal;"><span class="d">2</span><span class="d">3</span><span class="dt">.</span><span class="d">0</span><span class="p">%</span></div>
<div class="t" style="left:773.70px;width:600px;text-align:center;top:1071.97px;font-size:26.8px;font-weight:400;color:#16345a;letter-spacing:0px;font-style:normal;"><span class="d">4</span><span class="d">5</span><span class="dt">.</span><span class="d">6</span><span class="p">%</span></div>
<div class="t" style="left:919.90px;width:600px;text-align:center;top:1071.97px;font-size:26.8px;font-weight:400;color:#12a1c9;letter-spacing:0px;font-style:normal;"><span class="d">3</span><span class="dt">.</span><span class="o"></span><span class="p">%</span></div>
<div class="t" style="left:1062.70px;width:600px;text-align:center;top:1071.97px;font-size:26.8px;font-weight:400;color:#16345a;letter-spacing:0px;font-style:normal;"><span class="o"></span><span class="d">5</span><span class="dt">.</span><span class="o"></span><span class="p">%</span></div>
<div class="t" style="left:1218.50px;width:600px;text-align:center;top:1072.15px;font-size:26px;font-weight:700;color:#16345a;letter-spacing:0px;font-style:normal;-webkit-text-stroke:1.0px #16345a;transform:scaleX(1.06);transform-origin:50% 50%;">60</div>
<div class="t" style="left:-243.00px;width:600px;text-align:center;top:1140.14px;font-size:29.6px;font-weight:700;color:#12a1c9;letter-spacing:0px;font-style:normal;-webkit-text-stroke:0.6px #12a1c9;"><span class="b1"></span>3</div>
<div class="t" style="left:113.90px;top:1143.58px;font-size:23.9px;font-weight:700;color:#16345a;letter-spacing:0.83px;font-style:normal;-webkit-text-stroke:0.7px #16345a;transform:scaleX(1.045);transform-origin:0 0;">Garland, TX</div>
<div class="t" style="left:177.70px;width:600px;text-align:center;top:1143.02px;font-size:26.8px;font-weight:400;color:#16345a;letter-spacing:0px;font-style:normal;"><span class="d">3</span><span class="d">7</span><span class="dt">.</span><span class="d">9</span></div>
<div class="t" style="left:328.40px;width:600px;text-align:center;top:1143.02px;font-size:26.8px;font-weight:400;color:#12a1c9;letter-spacing:0px;font-style:normal;"><span class="d">6</span><span class="d">0</span><span class="dt">.</span><span class="d">4</span></div>
<div class="t" style="left:478.80px;width:600px;text-align:center;top:1143.02px;font-size:26.8px;font-weight:400;color:#16345a;letter-spacing:0px;font-style:normal;"><span class="d">3</span><span class="d">5</span><span class="dt">.</span><span class="o"></span><span class="p">%</span></div>
<div class="t" style="left:625.90px;width:600px;text-align:center;top:1143.02px;font-size:26.8px;font-weight:400;color:#12a1c9;letter-spacing:0px;font-style:normal;"><span class="d">2</span><span class="d">7</span><span class="dt">.</span><span class="d">2</span><span class="p">%</span></div>
<div class="t" style="left:773.70px;width:600px;text-align:center;top:1143.02px;font-size:26.8px;font-weight:400;color:#16345a;letter-spacing:0px;font-style:normal;"><span class="d">4</span><span class="d">0</span><span class="dt">.</span><span class="d">7</span><span class="p">%</span></div>
<div class="t" style="left:919.90px;width:600px;text-align:center;top:1143.02px;font-size:26.8px;font-weight:400;color:#12a1c9;letter-spacing:0px;font-style:normal;"><span class="d">3</span><span class="dt">.</span><span class="d">3</span><span class="p">%</span></div>
<div class="t" style="left:1062.70px;width:600px;text-align:center;top:1143.02px;font-size:26.8px;font-weight:400;color:#16345a;letter-spacing:0px;font-style:normal;"><span class="o"></span><span class="d">3</span><span class="dt">.</span><span class="d">9</span><span class="p">%</span></div>
<div class="t" style="left:1218.50px;width:600px;text-align:center;top:1143.20px;font-size:26px;font-weight:700;color:#16345a;letter-spacing:0px;font-style:normal;-webkit-text-stroke:1.0px #16345a;transform:scaleX(1.06);transform-origin:50% 50%;">60</div>
<div class="t" style="left:-243.00px;width:600px;text-align:center;top:1211.19px;font-size:29.6px;font-weight:700;color:#12a1c9;letter-spacing:0px;font-style:normal;-webkit-text-stroke:0.6px #12a1c9;"><span class="b1"></span>4</div>
<div class="t" style="left:113.90px;top:1214.63px;font-size:23.9px;font-weight:700;color:#16345a;letter-spacing:0.83px;font-style:normal;-webkit-text-stroke:0.7px #16345a;transform:scaleX(1.045);transform-origin:0 0;">Norfolk, VA</div>
<div class="t" style="left:177.70px;width:600px;text-align:center;top:1214.07px;font-size:26.8px;font-weight:400;color:#16345a;letter-spacing:0px;font-style:normal;"><span class="d">4</span><span class="d">0</span></div>
<div class="t" style="left:328.40px;width:600px;text-align:center;top:1214.07px;font-size:26.8px;font-weight:400;color:#12a1c9;letter-spacing:0px;font-style:normal;"><span class="d">4</span><span class="d">6</span><span class="dt">.</span><span class="d">2</span></div>
<div class="t" style="left:478.80px;width:600px;text-align:center;top:1214.07px;font-size:26.8px;font-weight:400;color:#16345a;letter-spacing:0px;font-style:normal;"><span class="d">4</span><span class="d">2</span><span class="dt">.</span><span class="d">9</span><span class="p">%</span></div>
<div class="t" style="left:625.90px;width:600px;text-align:center;top:1214.07px;font-size:26.8px;font-weight:400;color:#12a1c9;letter-spacing:0px;font-style:normal;"><span class="o"></span><span class="o"></span><span class="dt">.</span><span class="d">4</span><span class="p">%</span></div>
<div class="t" style="left:773.70px;width:600px;text-align:center;top:1214.07px;font-size:26.8px;font-weight:400;color:#16345a;letter-spacing:0px;font-style:normal;"><span class="d">4</span><span class="d">7</span><span class="dt">.</span><span class="d">3</span><span class="p">%</span></div>
<div class="t" style="left:919.90px;width:600px;text-align:center;top:1214.07px;font-size:26.8px;font-weight:400;color:#12a1c9;letter-spacing:0px;font-style:normal;"><span class="d">6</span><span class="dt">.</span><span class="o"></span><span class="p">%</span></div>
<div class="t" style="left:1062.70px;width:600px;text-align:center;top:1214.07px;font-size:26.8px;font-weight:400;color:#16345a;letter-spacing:0px;font-style:normal;"><span class="o"></span><span class="o"></span><span class="dt">.</span><span class="d">6</span><span class="p">%</span></div>
<div class="t" style="left:1218.50px;width:600px;text-align:center;top:1214.25px;font-size:26px;font-weight:700;color:#16345a;letter-spacing:0px;font-style:normal;-webkit-text-stroke:1.0px #16345a;transform:scaleX(1.06);transform-origin:50% 50%;">59</div>
<div class="t" style="left:-243.00px;width:600px;text-align:center;top:1282.24px;font-size:29.6px;font-weight:700;color:#12a1c9;letter-spacing:0px;font-style:normal;-webkit-text-stroke:0.6px #12a1c9;"><span class="b1"></span>5</div>
<div class="t" style="left:113.90px;top:1285.68px;font-size:23.9px;font-weight:700;color:#16345a;letter-spacing:0.83px;font-style:normal;-webkit-text-stroke:0.7px #16345a;transform:scaleX(1.045);transform-origin:0 0;">Brownsville, TX</div>
<div class="t" style="left:177.70px;width:600px;text-align:center;top:1285.12px;font-size:26.8px;font-weight:400;color:#16345a;letter-spacing:0px;font-style:normal;"><span class="d">4</span><span class="d">0</span><span class="dt">.</span><span class="d">7</span></div>
<div class="t" style="left:328.40px;width:600px;text-align:center;top:1285.12px;font-size:26.8px;font-weight:400;color:#12a1c9;letter-spacing:0px;font-style:normal;"><span class="d">4</span><span class="d">2</span><span class="dt">.</span><span class="d">4</span></div>
<div class="t" style="left:478.80px;width:600px;text-align:center;top:1285.12px;font-size:26.8px;font-weight:400;color:#16345a;letter-spacing:0px;font-style:normal;"><span class="d">2</span><span class="d">5</span><span class="dt">.</span><span class="d">7</span><span class="p">%</span></div>
<div class="t" style="left:625.90px;width:600px;text-align:center;top:1285.12px;font-size:26.8px;font-weight:400;color:#12a1c9;letter-spacing:0px;font-style:normal;"><span class="d">3</span><span class="d">7</span><span class="dt">.</span><span class="d">9</span><span class="p">%</span></div>
<div class="t" style="left:773.70px;width:600px;text-align:center;top:1285.12px;font-size:26.8px;font-weight:400;color:#16345a;letter-spacing:0px;font-style:normal;"><span class="d">4</span><span class="d">0</span><span class="dt">.</span><span class="d">6</span><span class="p">%</span></div>
<div class="t" style="left:919.90px;width:600px;text-align:center;top:1285.12px;font-size:26.8px;font-weight:400;color:#12a1c9;letter-spacing:0px;font-style:normal;"><span class="d">5</span><span class="dt">.</span><span class="d">5</span><span class="p">%</span></div>
<div class="t" style="left:1062.70px;width:600px;text-align:center;top:1285.12px;font-size:26.8px;font-weight:400;color:#16345a;letter-spacing:0px;font-style:normal;"><span class="d">7</span><span class="dt">.</span><span class="d">5</span><span class="p">%</span></div>
<div class="t" style="left:1218.50px;width:600px;text-align:center;top:1285.30px;font-size:26px;font-weight:700;color:#16345a;letter-spacing:0px;font-style:normal;-webkit-text-stroke:1.0px #16345a;transform:scaleX(1.06);transform-origin:50% 50%;">59</div>
<div class="t" style="left:-243.00px;width:600px;text-align:center;top:1353.29px;font-size:29.6px;font-weight:700;color:#12a1c9;letter-spacing:0px;font-style:normal;-webkit-text-stroke:0.6px #12a1c9;"><span class="b1"></span>6</div>
<div class="t" style="left:113.90px;top:1356.73px;font-size:23.9px;font-weight:700;color:#16345a;letter-spacing:0.83px;font-style:normal;-webkit-text-stroke:0.7px #16345a;transform:scaleX(1.045);transform-origin:0 0;">Birmingham, AL</div>
<div class="t" style="left:177.70px;width:600px;text-align:center;top:1356.17px;font-size:26.8px;font-weight:400;color:#16345a;letter-spacing:0px;font-style:normal;"><span class="d">3</span><span class="d">7</span><span class="dt">.</span><span class="d">6</span></div>
<div class="t" style="left:328.40px;width:600px;text-align:center;top:1356.17px;font-size:26.8px;font-weight:400;color:#12a1c9;letter-spacing:0px;font-style:normal;"><span class="d">4</span><span class="d">2</span><span class="dt">.</span><span class="d">6</span></div>
<div class="t" style="left:478.80px;width:600px;text-align:center;top:1356.17px;font-size:26.8px;font-weight:400;color:#16345a;letter-spacing:0px;font-style:normal;"><span class="d">2</span><span class="d">9</span><span class="dt">.</span><span class="d">5</span><span class="p">%</span></div>
<div class="t" style="left:625.90px;width:600px;text-align:center;top:1356.17px;font-size:26.8px;font-weight:400;color:#12a1c9;letter-spacing:0px;font-style:normal;"><span class="o"></span><span class="d">6</span><span class="dt">.</span><span class="d">6</span><span class="p">%</span></div>
<div class="t" style="left:773.70px;width:600px;text-align:center;top:1356.17px;font-size:26.8px;font-weight:400;color:#16345a;letter-spacing:0px;font-style:normal;"><span class="d">5</span><span class="d">9</span><span class="dt">.</span><span class="d">9</span><span class="p">%</span></div>
<div class="t" style="left:919.90px;width:600px;text-align:center;top:1356.17px;font-size:26.8px;font-weight:400;color:#12a1c9;letter-spacing:0px;font-style:normal;"><span class="o"></span><span class="dt">.</span><span class="d">5</span><span class="p">%</span></div>
<div class="t" style="left:1062.70px;width:600px;text-align:center;top:1356.17px;font-size:26.8px;font-weight:400;color:#16345a;letter-spacing:0px;font-style:normal;"><span class="o"></span><span class="d">2</span><span class="dt">.</span><span class="d">0</span><span class="p">%</span></div>
<div class="t" style="left:1218.50px;width:600px;text-align:center;top:1356.35px;font-size:26px;font-weight:700;color:#16345a;letter-spacing:0px;font-style:normal;-webkit-text-stroke:1.0px #16345a;transform:scaleX(1.06);transform-origin:50% 50%;">58</div>
<div class="t" style="left:-243.00px;width:600px;text-align:center;top:1424.34px;font-size:29.6px;font-weight:700;color:#12a1c9;letter-spacing:0px;font-style:normal;-webkit-text-stroke:0.6px #12a1c9;"><span class="b1"></span>7</div>
<div class="t" style="left:113.90px;top:1427.78px;font-size:23.9px;font-weight:700;color:#16345a;letter-spacing:0.83px;font-style:normal;-webkit-text-stroke:0.7px #16345a;transform:scaleX(1.045);transform-origin:0 0;">North Las Vegas, NV</div>
<div class="t" style="left:177.70px;width:600px;text-align:center;top:1427.22px;font-size:26.8px;font-weight:400;color:#16345a;letter-spacing:0px;font-style:normal;"><span class="d">3</span><span class="d">8</span><span class="dt">.</span><span class="d">2</span></div>
<div class="t" style="left:328.40px;width:600px;text-align:center;top:1427.22px;font-size:26.8px;font-weight:400;color:#12a1c9;letter-spacing:0px;font-style:normal;"><span class="d">5</span><span class="d">2</span><span class="dt">.</span><span class="d">4</span></div>
<div class="t" style="left:478.80px;width:600px;text-align:center;top:1427.22px;font-size:26.8px;font-weight:400;color:#16345a;letter-spacing:0px;font-style:normal;"><span class="d">4</span><span class="d">4</span><span class="dt">.</span><span class="d">3</span><span class="p">%</span></div>
<div class="t" style="left:625.90px;width:600px;text-align:center;top:1427.22px;font-size:26.8px;font-weight:400;color:#12a1c9;letter-spacing:0px;font-style:normal;"><span class="o"></span><span class="d">7</span><span class="dt">.</span><span class="d">0</span><span class="p">%</span></div>
<div class="t" style="left:773.70px;width:600px;text-align:center;top:1427.22px;font-size:26.8px;font-weight:400;color:#16345a;letter-spacing:0px;font-style:normal;"><span class="d">3</span><span class="d">9</span><span class="dt">.</span><span class="d">5</span><span class="p">%</span></div>
<div class="t" style="left:919.90px;width:600px;text-align:center;top:1427.22px;font-size:26.8px;font-weight:400;color:#12a1c9;letter-spacing:0px;font-style:normal;"><span class="d">6</span><span class="dt">.</span><span class="d">2</span><span class="p">%</span></div>
<div class="t" style="left:1062.70px;width:600px;text-align:center;top:1427.22px;font-size:26.8px;font-weight:400;color:#16345a;letter-spacing:0px;font-style:normal;"><span class="d">8</span><span class="dt">.</span><span class="d">5</span><span class="p">%</span></div>
<div class="t" style="left:1218.50px;width:600px;text-align:center;top:1427.40px;font-size:26px;font-weight:700;color:#16345a;letter-spacing:0px;font-style:normal;-webkit-text-stroke:1.0px #16345a;transform:scaleX(1.06);transform-origin:50% 50%;">58</div>
<div class="t" style="left:-243.00px;width:600px;text-align:center;top:1495.39px;font-size:29.6px;font-weight:700;color:#12a1c9;letter-spacing:0px;font-style:normal;-webkit-text-stroke:0.6px #12a1c9;"><span class="b1"></span>8</div>
<div class="t" style="left:113.90px;top:1498.83px;font-size:23.9px;font-weight:700;color:#16345a;letter-spacing:0.83px;font-style:normal;-webkit-text-stroke:0.7px #16345a;transform:scaleX(1.045);transform-origin:0 0;">Baltimore, MD</div>
<div class="t" style="left:177.70px;width:600px;text-align:center;top:1498.27px;font-size:26.8px;font-weight:400;color:#16345a;letter-spacing:0px;font-style:normal;"><span class="d">3</span><span class="d">8</span><span class="dt">.</span><span class="d">4</span></div>
<div class="t" style="left:328.40px;width:600px;text-align:center;top:1498.27px;font-size:26.8px;font-weight:400;color:#12a1c9;letter-spacing:0px;font-style:normal;"><span class="d">5</span><span class="d">4</span><span class="dt">.</span><span class="d">6</span></div>
<div class="t" style="left:478.80px;width:600px;text-align:center;top:1498.27px;font-size:26.8px;font-weight:400;color:#16345a;letter-spacing:0px;font-style:normal;"><span class="d">2</span><span class="d">5</span><span class="dt">.</span><span class="d">8</span><span class="p">%</span></div>
<div class="t" style="left:625.90px;width:600px;text-align:center;top:1498.27px;font-size:26.8px;font-weight:400;color:#12a1c9;letter-spacing:0px;font-style:normal;"><span class="d">5</span><span class="dt">.</span><span class="d">3</span><span class="p">%</span></div>
<div class="t" style="left:773.70px;width:600px;text-align:center;top:1498.27px;font-size:26.8px;font-weight:400;color:#16345a;letter-spacing:0px;font-style:normal;"><span class="d">5</span><span class="d">2</span><span class="dt">.</span><span class="d">0</span><span class="p">%</span></div>
<div class="t" style="left:919.90px;width:600px;text-align:center;top:1498.27px;font-size:26.8px;font-weight:400;color:#12a1c9;letter-spacing:0px;font-style:normal;"><span class="d">3</span><span class="dt">.</span><span class="d">8</span><span class="p">%</span></div>
<div class="t" style="left:1062.70px;width:600px;text-align:center;top:1498.27px;font-size:26.8px;font-weight:400;color:#16345a;letter-spacing:0px;font-style:normal;"><span class="d">2</span><span class="d">4</span><span class="dt">.</span><span class="o"></span><span class="p">%</span></div>
<div class="t" style="left:1218.50px;width:600px;text-align:center;top:1498.45px;font-size:26px;font-weight:700;color:#16345a;letter-spacing:0px;font-style:normal;-webkit-text-stroke:1.0px #16345a;transform:scaleX(1.06);transform-origin:50% 50%;">57</div>
<div class="t" style="left:-243.00px;width:600px;text-align:center;top:1566.44px;font-size:29.6px;font-weight:700;color:#12a1c9;letter-spacing:0px;font-style:normal;-webkit-text-stroke:0.6px #12a1c9;"><span class="b1"></span>9</div>
<div class="t" style="left:113.90px;top:1569.88px;font-size:23.9px;font-weight:700;color:#16345a;letter-spacing:0.83px;font-style:normal;-webkit-text-stroke:0.7px #16345a;transform:scaleX(1.045);transform-origin:0 0;">Nashville, TN</div>
<div class="t" style="left:177.70px;width:600px;text-align:center;top:1569.32px;font-size:26.8px;font-weight:400;color:#16345a;letter-spacing:0px;font-style:normal;"><span class="d">3</span><span class="d">9</span><span class="dt">.</span><span class="d">6</span></div>
<div class="t" style="left:328.40px;width:600px;text-align:center;top:1569.32px;font-size:26.8px;font-weight:400;color:#12a1c9;letter-spacing:0px;font-style:normal;"><span class="d">4</span><span class="d">6</span><span class="dt">.</span><span class="d">8</span></div>
<div class="t" style="left:478.80px;width:600px;text-align:center;top:1569.32px;font-size:26.8px;font-weight:400;color:#16345a;letter-spacing:0px;font-style:normal;"><span class="d">2</span><span class="d">9</span><span class="dt">.</span><span class="d">5</span><span class="p">%</span></div>
<div class="t" style="left:625.90px;width:600px;text-align:center;top:1569.32px;font-size:26.8px;font-weight:400;color:#12a1c9;letter-spacing:0px;font-style:normal;"><span class="o"></span><span class="d">5</span><span class="dt">.</span><span class="d">0</span><span class="p">%</span></div>
<div class="t" style="left:773.70px;width:600px;text-align:center;top:1569.32px;font-size:26.8px;font-weight:400;color:#16345a;letter-spacing:0px;font-style:normal;"><span class="d">4</span><span class="d">5</span><span class="dt">.</span><span class="d">5</span><span class="p">%</span></div>
<div class="t" style="left:919.90px;width:600px;text-align:center;top:1569.32px;font-size:26.8px;font-weight:400;color:#12a1c9;letter-spacing:0px;font-style:normal;"><span class="d">5</span><span class="dt">.</span><span class="d">6</span><span class="p">%</span></div>
<div class="t" style="left:1062.70px;width:600px;text-align:center;top:1569.32px;font-size:26.8px;font-weight:400;color:#16345a;letter-spacing:0px;font-style:normal;"><span class="d">2</span><span class="d">2</span><span class="dt">.</span><span class="d">8</span><span class="p">%</span></div>
<div class="t" style="left:1218.50px;width:600px;text-align:center;top:1569.50px;font-size:26px;font-weight:700;color:#16345a;letter-spacing:0px;font-style:normal;-webkit-text-stroke:1.0px #16345a;transform:scaleX(1.06);transform-origin:50% 50%;">57</div>
<div class="t" style="left:-243.00px;width:600px;text-align:center;top:1637.49px;font-size:29.6px;font-weight:700;color:#12a1c9;letter-spacing:0px;font-style:normal;-webkit-text-stroke:0.6px #12a1c9;">20</div>
<div class="t" style="left:113.90px;top:1640.93px;font-size:23.9px;font-weight:700;color:#16345a;letter-spacing:0.83px;font-style:normal;-webkit-text-stroke:0.7px #16345a;transform:scaleX(1.045);transform-origin:0 0;">Chicago, IL</div>
<div class="t" style="left:177.70px;width:600px;text-align:center;top:1640.37px;font-size:26.8px;font-weight:400;color:#16345a;letter-spacing:0px;font-style:normal;"><span class="d">3</span><span class="d">8</span><span class="dt">.</span><span class="d">9</span></div>
<div class="t" style="left:328.40px;width:600px;text-align:center;top:1640.37px;font-size:26.8px;font-weight:400;color:#12a1c9;letter-spacing:0px;font-style:normal;"><span class="d">6</span><span class="d">4</span><span class="dt">.</span><span class="d">4</span></div>
<div class="t" style="left:478.80px;width:600px;text-align:center;top:1640.37px;font-size:26.8px;font-weight:400;color:#16345a;letter-spacing:0px;font-style:normal;"><span class="d">2</span><span class="d">8</span><span class="dt">.</span><span class="d">5</span><span class="p">%</span></div>
<div class="t" style="left:625.90px;width:600px;text-align:center;top:1640.37px;font-size:26.8px;font-weight:400;color:#12a1c9;letter-spacing:0px;font-style:normal;"><span class="o"></span><span class="d">0</span><span class="dt">.</span><span class="d">9</span><span class="p">%</span></div>
<div class="t" style="left:773.70px;width:600px;text-align:center;top:1640.37px;font-size:26.8px;font-weight:400;color:#16345a;letter-spacing:0px;font-style:normal;"><span class="d">4</span><span class="d">3</span><span class="dt">.</span><span class="d">7</span><span class="p">%</span></div>
<div class="t" style="left:919.90px;width:600px;text-align:center;top:1640.37px;font-size:26.8px;font-weight:400;color:#12a1c9;letter-spacing:0px;font-style:normal;"><span class="d">5</span><span class="dt">.</span><span class="d">9</span><span class="p">%</span></div>
<div class="t" style="left:1062.70px;width:600px;text-align:center;top:1640.37px;font-size:26.8px;font-weight:400;color:#16345a;letter-spacing:0px;font-style:normal;"><span class="d">2</span><span class="d">7</span><span class="dt">.</span><span class="o"></span><span class="p">%</span></div>
<div class="t" style="left:1218.50px;width:600px;text-align:center;top:1640.55px;font-size:26px;font-weight:700;color:#16345a;letter-spacing:0px;font-style:normal;-webkit-text-stroke:1.0px #16345a;transform:scaleX(1.06);transform-origin:50% 50%;">57</div>
<div class="t" style="left:-243.00px;width:600px;text-align:center;top:1708.54px;font-size:29.6px;font-weight:700;color:#12a1c9;letter-spacing:0px;font-style:normal;-webkit-text-stroke:0.6px #12a1c9;">2<span class="b1"></span></div>
<div class="t" style="left:113.90px;top:1711.98px;font-size:23.9px;font-weight:700;color:#16345a;letter-spacing:0.83px;font-style:normal;-webkit-text-stroke:0.7px #16345a;transform:scaleX(1.045);transform-origin:0 0;">Jacksonville, FL</div>
<div class="t" style="left:177.70px;width:600px;text-align:center;top:1711.42px;font-size:26.8px;font-weight:400;color:#16345a;letter-spacing:0px;font-style:normal;"><span class="d">3</span><span class="d">9</span><span class="dt">.</span><span class="d">3</span></div>
<div class="t" style="left:328.40px;width:600px;text-align:center;top:1711.42px;font-size:26.8px;font-weight:400;color:#12a1c9;letter-spacing:0px;font-style:normal;"><span class="d">4</span><span class="d">6</span><span class="dt">.</span><span class="d">6</span></div>
<div class="t" style="left:478.80px;width:600px;text-align:center;top:1711.42px;font-size:26.8px;font-weight:400;color:#16345a;letter-spacing:0px;font-style:normal;"><span class="d">3</span><span class="d">2</span><span class="dt">.</span><span class="d">6</span><span class="p">%</span></div>
<div class="t" style="left:625.90px;width:600px;text-align:center;top:1711.42px;font-size:26.8px;font-weight:400;color:#12a1c9;letter-spacing:0px;font-style:normal;"><span class="o"></span><span class="d">3</span><span class="dt">.</span><span class="d">9</span><span class="p">%</span></div>
<div class="t" style="left:773.70px;width:600px;text-align:center;top:1711.42px;font-size:26.8px;font-weight:400;color:#16345a;letter-spacing:0px;font-style:normal;"><span class="d">5</span><span class="d">0</span><span class="dt">.</span><span class="d">3</span><span class="p">%</span></div>
<div class="t" style="left:919.90px;width:600px;text-align:center;top:1711.42px;font-size:26.8px;font-weight:400;color:#12a1c9;letter-spacing:0px;font-style:normal;"><span class="d">4</span><span class="dt">.</span><span class="d">9</span><span class="p">%</span></div>
<div class="t" style="left:1062.70px;width:600px;text-align:center;top:1711.42px;font-size:26.8px;font-weight:400;color:#16345a;letter-spacing:0px;font-style:normal;"><span class="o"></span><span class="d">6</span><span class="dt">.</span><span class="d">0</span><span class="p">%</span></div>
<div class="t" style="left:1218.50px;width:600px;text-align:center;top:1711.60px;font-size:26px;font-weight:700;color:#16345a;letter-spacing:0px;font-style:normal;-webkit-text-stroke:1.0px #16345a;transform:scaleX(1.06);transform-origin:50% 50%;">57</div>
<div class="t" style="left:-243.00px;width:600px;text-align:center;top:1779.59px;font-size:29.6px;font-weight:700;color:#12a1c9;letter-spacing:0px;font-style:normal;-webkit-text-stroke:0.6px #12a1c9;">22</div>
<div class="t" style="left:113.90px;top:1783.03px;font-size:23.9px;font-weight:700;color:#16345a;letter-spacing:0.83px;font-style:normal;-webkit-text-stroke:0.7px #16345a;transform:scaleX(1.045);transform-origin:0 0;">El Paso, TX</div>
<div class="t" style="left:177.70px;width:600px;text-align:center;top:1782.47px;font-size:26.8px;font-weight:400;color:#16345a;letter-spacing:0px;font-style:normal;"><span class="d">3</span><span class="d">8</span><span class="dt">.</span><span class="d">6</span></div>
<div class="t" style="left:328.40px;width:600px;text-align:center;top:1782.47px;font-size:26.8px;font-weight:400;color:#12a1c9;letter-spacing:0px;font-style:normal;"><span class="d">4</span><span class="d">7</span><span class="dt">.</span><span class="d">6</span></div>
<div class="t" style="left:478.80px;width:600px;text-align:center;top:1782.47px;font-size:26.8px;font-weight:400;color:#16345a;letter-spacing:0px;font-style:normal;"><span class="d">3</span><span class="d">0</span><span class="dt">.</span><span class="d">5</span><span class="p">%</span></div>
<div class="t" style="left:625.90px;width:600px;text-align:center;top:1782.47px;font-size:26.8px;font-weight:400;color:#12a1c9;letter-spacing:0px;font-style:normal;"><span class="d">2</span><span class="d">7</span><span class="dt">.</span><span class="d">0</span><span class="p">%</span></div>
<div class="t" style="left:773.70px;width:600px;text-align:center;top:1782.47px;font-size:26.8px;font-weight:400;color:#16345a;letter-spacing:0px;font-style:normal;"><span class="d">4</span><span class="d">5</span><span class="dt">.</span><span class="d">8</span><span class="p">%</span></div>
<div class="t" style="left:919.90px;width:600px;text-align:center;top:1782.47px;font-size:26.8px;font-weight:400;color:#12a1c9;letter-spacing:0px;font-style:normal;"><span class="d">5</span><span class="dt">.</span><span class="d">0</span><span class="p">%</span></div>
<div class="t" style="left:1062.70px;width:600px;text-align:center;top:1782.47px;font-size:26.8px;font-weight:400;color:#16345a;letter-spacing:0px;font-style:normal;"><span class="o"></span><span class="d">0</span><span class="dt">.</span><span class="o"></span><span class="p">%</span></div>
<div class="t" style="left:1218.50px;width:600px;text-align:center;top:1782.65px;font-size:26px;font-weight:700;color:#16345a;letter-spacing:0px;font-style:normal;-webkit-text-stroke:1.0px #16345a;transform:scaleX(1.06);transform-origin:50% 50%;">57</div>
<div class="t" style="left:-243.00px;width:600px;text-align:center;top:1850.64px;font-size:29.6px;font-weight:700;color:#12a1c9;letter-spacing:0px;font-style:normal;-webkit-text-stroke:0.6px #12a1c9;">23</div>
<div class="t" style="left:113.90px;top:1854.08px;font-size:23.9px;font-weight:700;color:#16345a;letter-spacing:0.83px;font-style:normal;-webkit-text-stroke:0.7px #16345a;transform:scaleX(1.045);transform-origin:0 0;">Augusta, GA</div>
<div class="t" style="left:177.70px;width:600px;text-align:center;top:1853.52px;font-size:26.8px;font-weight:400;color:#16345a;letter-spacing:0px;font-style:normal;"><span class="d">3</span><span class="d">9</span><span class="dt">.</span><span class="o"></span></div>
<div class="t" style="left:328.40px;width:600px;text-align:center;top:1853.52px;font-size:26.8px;font-weight:400;color:#12a1c9;letter-spacing:0px;font-style:normal;"><span class="d">4</span><span class="d">2</span><span class="dt">.</span><span class="d">2</span></div>
<div class="t" style="left:478.80px;width:600px;text-align:center;top:1853.52px;font-size:26.8px;font-weight:400;color:#16345a;letter-spacing:0px;font-style:normal;"><span class="d">3</span><span class="d">3</span><span class="dt">.</span><span class="d">7</span><span class="p">%</span></div>
<div class="t" style="left:625.90px;width:600px;text-align:center;top:1853.52px;font-size:26.8px;font-weight:400;color:#12a1c9;letter-spacing:0px;font-style:normal;"><span class="d">2</span><span class="o"></span><span class="dt">.</span><span class="d">0</span><span class="p">%</span></div>
<div class="t" style="left:773.70px;width:600px;text-align:center;top:1853.52px;font-size:26.8px;font-weight:400;color:#16345a;letter-spacing:0px;font-style:normal;"><span class="d">5</span><span class="d">4</span><span class="dt">.</span><span class="d">4</span><span class="p">%</span></div>
<div class="t" style="left:919.90px;width:600px;text-align:center;top:1853.52px;font-size:26.8px;font-weight:400;color:#12a1c9;letter-spacing:0px;font-style:normal;"><span class="d">5</span><span class="dt">.</span><span class="d">4</span><span class="p">%</span></div>
<div class="t" style="left:1062.70px;width:600px;text-align:center;top:1853.52px;font-size:26.8px;font-weight:400;color:#16345a;letter-spacing:0px;font-style:normal;"><span class="d">8</span><span class="dt">.</span><span class="d">5</span><span class="p">%</span></div>
<div class="t" style="left:1218.50px;width:600px;text-align:center;top:1853.70px;font-size:26px;font-weight:700;color:#16345a;letter-spacing:0px;font-style:normal;-webkit-text-stroke:1.0px #16345a;transform:scaleX(1.06);transform-origin:50% 50%;">57</div>
<div class="t" style="left:-243.00px;width:600px;text-align:center;top:1921.69px;font-size:29.6px;font-weight:700;color:#12a1c9;letter-spacing:0px;font-style:normal;-webkit-text-stroke:0.6px #12a1c9;">24</div>
<div class="t" style="left:113.90px;top:1925.13px;font-size:23.9px;font-weight:700;color:#16345a;letter-spacing:0.83px;font-style:normal;-webkit-text-stroke:0.7px #16345a;transform:scaleX(1.045);transform-origin:0 0;">San Bernardino, CA</div>
<div class="t" style="left:177.70px;width:600px;text-align:center;top:1924.57px;font-size:26.8px;font-weight:400;color:#16345a;letter-spacing:0px;font-style:normal;"><span class="d">3</span><span class="d">8</span><span class="dt">.</span><span class="o"></span></div>
<div class="t" style="left:328.40px;width:600px;text-align:center;top:1924.57px;font-size:26.8px;font-weight:400;color:#12a1c9;letter-spacing:0px;font-style:normal;"><span class="d">5</span><span class="d">4</span><span class="dt">.</span><span class="d">6</span></div>
<div class="t" style="left:478.80px;width:600px;text-align:center;top:1924.57px;font-size:26.8px;font-weight:400;color:#16345a;letter-spacing:0px;font-style:normal;"><span class="d">4</span><span class="d">7</span><span class="dt">.</span><span class="d">9</span><span class="p">%</span></div>
<div class="t" style="left:625.90px;width:600px;text-align:center;top:1924.57px;font-size:26.8px;font-weight:400;color:#12a1c9;letter-spacing:0px;font-style:normal;"><span class="o"></span><span class="d">3</span><span class="dt">.</span><span class="d">5</span><span class="p">%</span></div>
<div class="t" style="left:773.70px;width:600px;text-align:center;top:1924.57px;font-size:26.8px;font-weight:400;color:#16345a;letter-spacing:0px;font-style:normal;"><span class="d">4</span><span class="d">3</span><span class="dt">.</span><span class="d">6</span><span class="p">%</span></div>
<div class="t" style="left:919.90px;width:600px;text-align:center;top:1924.57px;font-size:26.8px;font-weight:400;color:#12a1c9;letter-spacing:0px;font-style:normal;"><span class="o"></span><span class="d">2</span><span class="dt">.</span><span class="d">3</span><span class="p">%</span></div>
<div class="t" style="left:1062.70px;width:600px;text-align:center;top:1924.57px;font-size:26.8px;font-weight:400;color:#16345a;letter-spacing:0px;font-style:normal;"><span class="d">9</span><span class="dt">.</span><span class="d">0</span><span class="p">%</span></div>
<div class="t" style="left:1218.50px;width:600px;text-align:center;top:1924.75px;font-size:26px;font-weight:700;color:#16345a;letter-spacing:0px;font-style:normal;-webkit-text-stroke:1.0px #16345a;transform:scaleX(1.06);transform-origin:50% 50%;">56</div>
<div class="t" style="left:-243.00px;width:600px;text-align:center;top:1992.74px;font-size:29.6px;font-weight:700;color:#12a1c9;letter-spacing:0px;font-style:normal;-webkit-text-stroke:0.6px #12a1c9;">25</div>
<div class="t" style="left:113.90px;top:1996.18px;font-size:23.9px;font-weight:700;color:#16345a;letter-spacing:0.83px;font-style:normal;-webkit-text-stroke:0.7px #16345a;transform:scaleX(1.045);transform-origin:0 0;">Glendale, AZ</div>
<div class="t" style="left:177.70px;width:600px;text-align:center;top:1995.62px;font-size:26.8px;font-weight:400;color:#16345a;letter-spacing:0px;font-style:normal;"><span class="d">3</span><span class="d">9</span></div>
<div class="t" style="left:328.40px;width:600px;text-align:center;top:1995.62px;font-size:26.8px;font-weight:400;color:#12a1c9;letter-spacing:0px;font-style:normal;"><span class="d">5</span><span class="d">2</span><span class="dt">.</span><span class="d">2</span></div>
<div class="t" style="left:478.80px;width:600px;text-align:center;top:1995.62px;font-size:26.8px;font-weight:400;color:#16345a;letter-spacing:0px;font-style:normal;"><span class="d">4</span><span class="d">6</span><span class="dt">.</span><span class="d">3</span><span class="p">%</span></div>
<div class="t" style="left:625.90px;width:600px;text-align:center;top:1995.62px;font-size:26.8px;font-weight:400;color:#12a1c9;letter-spacing:0px;font-style:normal;"><span class="o"></span><span class="d">5</span><span class="dt">.</span><span class="d">9</span><span class="p">%</span></div>
<div class="t" style="left:773.70px;width:600px;text-align:center;top:1995.62px;font-size:26.8px;font-weight:400;color:#16345a;letter-spacing:0px;font-style:normal;"><span class="d">4</span><span class="o"></span><span class="dt">.</span><span class="d">2</span><span class="p">%</span></div>
<div class="t" style="left:919.90px;width:600px;text-align:center;top:1995.62px;font-size:26.8px;font-weight:400;color:#12a1c9;letter-spacing:0px;font-style:normal;"><span class="d">6</span><span class="dt">.</span><span class="d">2</span><span class="p">%</span></div>
<div class="t" style="left:1062.70px;width:600px;text-align:center;top:1995.62px;font-size:26.8px;font-weight:400;color:#16345a;letter-spacing:0px;font-style:normal;"><span class="d">2</span><span class="o"></span><span class="dt">.</span><span class="d">0</span><span class="p">%</span></div>
<div class="t" style="left:1218.50px;width:600px;text-align:center;top:1995.80px;font-size:26px;font-weight:700;color:#16345a;letter-spacing:0px;font-style:normal;-webkit-text-stroke:1.0px #16345a;transform:scaleX(1.06);transform-origin:50% 50%;">56</div>
<div class="t" style="left:-243.00px;width:600px;text-align:center;top:2063.79px;font-size:29.6px;font-weight:700;color:#12a1c9;letter-spacing:0px;font-style:normal;-webkit-text-stroke:0.6px #12a1c9;">26</div>
<div class="t" style="left:113.90px;top:2067.24px;font-size:23.9px;font-weight:700;color:#16345a;letter-spacing:0.83px;font-style:normal;-webkit-text-stroke:0.7px #16345a;transform:scaleX(1.045);transform-origin:0 0;">Irving, TX</div>
<div class="t" style="left:177.70px;width:600px;text-align:center;top:2066.67px;font-size:26.8px;font-weight:400;color:#16345a;letter-spacing:0px;font-style:normal;"><span class="d">3</span><span class="d">9</span><span class="dt">.</span><span class="d">9</span></div>
<div class="t" style="left:328.40px;width:600px;text-align:center;top:2066.67px;font-size:26.8px;font-weight:400;color:#12a1c9;letter-spacing:0px;font-style:normal;"><span class="d">4</span><span class="d">8</span></div>
<div class="t" style="left:478.80px;width:600px;text-align:center;top:2066.67px;font-size:26.8px;font-weight:400;color:#16345a;letter-spacing:0px;font-style:normal;"><span class="d">3</span><span class="d">4</span><span class="dt">.</span><span class="d">0</span><span class="p">%</span></div>
<div class="t" style="left:625.90px;width:600px;text-align:center;top:2066.67px;font-size:26.8px;font-weight:400;color:#12a1c9;letter-spacing:0px;font-style:normal;"><span class="d">2</span><span class="d">4</span><span class="dt">.</span><span class="d">8</span><span class="p">%</span></div>
<div class="t" style="left:773.70px;width:600px;text-align:center;top:2066.67px;font-size:26.8px;font-weight:400;color:#16345a;letter-spacing:0px;font-style:normal;"><span class="d">4</span><span class="d">4</span><span class="dt">.</span><span class="d">5</span><span class="p">%</span></div>
<div class="t" style="left:919.90px;width:600px;text-align:center;top:2066.67px;font-size:26.8px;font-weight:400;color:#12a1c9;letter-spacing:0px;font-style:normal;"><span class="d">5</span><span class="dt">.</span><span class="o"></span><span class="p">%</span></div>
<div class="t" style="left:1062.70px;width:600px;text-align:center;top:2066.67px;font-size:26.8px;font-weight:400;color:#16345a;letter-spacing:0px;font-style:normal;"><span class="d">2</span><span class="d">5</span><span class="dt">.</span><span class="d">5</span><span class="p">%</span></div>
<div class="t" style="left:1218.50px;width:600px;text-align:center;top:2066.85px;font-size:26px;font-weight:700;color:#16345a;letter-spacing:0px;font-style:normal;-webkit-text-stroke:1.0px #16345a;transform:scaleX(1.06);transform-origin:50% 50%;">56</div>
<div class="t" style="left:-243.00px;width:600px;text-align:center;top:2134.84px;font-size:29.6px;font-weight:700;color:#12a1c9;letter-spacing:0px;font-style:normal;-webkit-text-stroke:0.6px #12a1c9;">27</div>
<div class="t" style="left:113.90px;top:2138.28px;font-size:23.9px;font-weight:700;color:#16345a;letter-spacing:0.83px;font-style:normal;-webkit-text-stroke:0.7px #16345a;transform:scaleX(1.045);transform-origin:0 0;">Tulsa, OK</div>
<div class="t" style="left:177.70px;width:600px;text-align:center;top:2137.72px;font-size:26.8px;font-weight:400;color:#16345a;letter-spacing:0px;font-style:normal;"><span class="d">3</span><span class="d">9</span></div>
<div class="t" style="left:328.40px;width:600px;text-align:center;top:2137.72px;font-size:26.8px;font-weight:400;color:#12a1c9;letter-spacing:0px;font-style:normal;"><span class="d">3</span><span class="d">8</span></div>
<div class="t" style="left:478.80px;width:600px;text-align:center;top:2137.72px;font-size:26.8px;font-weight:400;color:#16345a;letter-spacing:0px;font-style:normal;"><span class="d">3</span><span class="d">0</span><span class="dt">.</span><span class="o"></span><span class="p">%</span></div>
<div class="t" style="left:625.90px;width:600px;text-align:center;top:2137.72px;font-size:26.8px;font-weight:400;color:#12a1c9;letter-spacing:0px;font-style:normal;"><span class="d">2</span><span class="o"></span><span class="dt">.</span><span class="d">6</span><span class="p">%</span></div>
<div class="t" style="left:773.70px;width:600px;text-align:center;top:2137.72px;font-size:26.8px;font-weight:400;color:#16345a;letter-spacing:0px;font-style:normal;"><span class="d">4</span><span class="d">9</span><span class="dt">.</span><span class="o"></span><span class="p">%</span></div>
<div class="t" style="left:919.90px;width:600px;text-align:center;top:2137.72px;font-size:26.8px;font-weight:400;color:#12a1c9;letter-spacing:0px;font-style:normal;"><span class="d">6</span><span class="dt">.</span><span class="d">0</span><span class="p">%</span></div>
<div class="t" style="left:1062.70px;width:600px;text-align:center;top:2137.72px;font-size:26.8px;font-weight:400;color:#16345a;letter-spacing:0px;font-style:normal;"><span class="o"></span><span class="d">3</span><span class="dt">.</span><span class="d">6</span><span class="p">%</span></div>
<div class="t" style="left:1218.50px;width:600px;text-align:center;top:2137.90px;font-size:26px;font-weight:700;color:#16345a;letter-spacing:0px;font-style:normal;-webkit-text-stroke:1.0px #16345a;transform:scaleX(1.06);transform-origin:50% 50%;">55</div>
<div class="t" style="left:-243.00px;width:600px;text-align:center;top:2205.89px;font-size:29.6px;font-weight:700;color:#12a1c9;letter-spacing:0px;font-style:normal;-webkit-text-stroke:0.6px #12a1c9;">28</div>
<div class="t" style="left:113.90px;top:2209.34px;font-size:23.9px;font-weight:700;color:#16345a;letter-spacing:0.83px;font-style:normal;-webkit-text-stroke:0.7px #16345a;transform:scaleX(1.045);transform-origin:0 0;">Miami, FL</div>
<div class="t" style="left:177.70px;width:600px;text-align:center;top:2208.77px;font-size:26.8px;font-weight:400;color:#16345a;letter-spacing:0px;font-style:normal;"><span class="d">3</span><span class="d">9</span><span class="dt">.</span><span class="d">5</span></div>
<div class="t" style="left:328.40px;width:600px;text-align:center;top:2208.77px;font-size:26.8px;font-weight:400;color:#12a1c9;letter-spacing:0px;font-style:normal;"><span class="d">5</span><span class="d">2</span><span class="dt">.</span><span class="d">8</span></div>
<div class="t" style="left:478.80px;width:600px;text-align:center;top:2208.77px;font-size:26.8px;font-weight:400;color:#16345a;letter-spacing:0px;font-style:normal;"><span class="d">2</span><span class="o"></span><span class="dt">.</span><span class="d">6</span><span class="p">%</span></div>
<div class="t" style="left:625.90px;width:600px;text-align:center;top:2208.77px;font-size:26.8px;font-weight:400;color:#12a1c9;letter-spacing:0px;font-style:normal;"><span class="o"></span><span class="d">9</span><span class="dt">.</span><span class="d">2</span><span class="p">%</span></div>
<div class="t" style="left:773.70px;width:600px;text-align:center;top:2208.77px;font-size:26.8px;font-weight:400;color:#16345a;letter-spacing:0px;font-style:normal;"><span class="d">5</span><span class="d">0</span><span class="dt">.</span><span class="o"></span><span class="p">%</span></div>
<div class="t" style="left:919.90px;width:600px;text-align:center;top:2208.77px;font-size:26.8px;font-weight:400;color:#12a1c9;letter-spacing:0px;font-style:normal;"><span class="d">8</span><span class="dt">.</span><span class="o"></span><span class="p">%</span></div>
<div class="t" style="left:1062.70px;width:600px;text-align:center;top:2208.77px;font-size:26.8px;font-weight:400;color:#16345a;letter-spacing:0px;font-style:normal;"><span class="o"></span><span class="d">8</span><span class="dt">.</span><span class="d">4</span><span class="p">%</span></div>
<div class="t" style="left:1218.50px;width:600px;text-align:center;top:2208.95px;font-size:26px;font-weight:700;color:#16345a;letter-spacing:0px;font-style:normal;-webkit-text-stroke:1.0px #16345a;transform:scaleX(1.06);transform-origin:50% 50%;">55</div>
<div class="t" style="left:-243.00px;width:600px;text-align:center;top:2276.94px;font-size:29.6px;font-weight:700;color:#12a1c9;letter-spacing:0px;font-style:normal;-webkit-text-stroke:0.6px #12a1c9;">29</div>
<div class="t" style="left:113.90px;top:2280.38px;font-size:23.9px;font-weight:700;color:#16345a;letter-spacing:0.83px;font-style:normal;-webkit-text-stroke:0.7px #16345a;transform:scaleX(1.045);transform-origin:0 0;">Phoenix, AZ</div>
<div class="t" style="left:177.70px;width:600px;text-align:center;top:2279.82px;font-size:26.8px;font-weight:400;color:#16345a;letter-spacing:0px;font-style:normal;"><span class="d">3</span><span class="d">9</span><span class="dt">.</span><span class="d">2</span></div>
<div class="t" style="left:328.40px;width:600px;text-align:center;top:2279.82px;font-size:26.8px;font-weight:400;color:#12a1c9;letter-spacing:0px;font-style:normal;"><span class="d">4</span><span class="d">9</span></div>
<div class="t" style="left:478.80px;width:600px;text-align:center;top:2279.82px;font-size:26.8px;font-weight:400;color:#16345a;letter-spacing:0px;font-style:normal;"><span class="d">4</span><span class="d">0</span><span class="dt">.</span><span class="d">2</span><span class="p">%</span></div>
<div class="t" style="left:625.90px;width:600px;text-align:center;top:2279.82px;font-size:26.8px;font-weight:400;color:#12a1c9;letter-spacing:0px;font-style:normal;"><span class="o"></span><span class="d">7</span><span class="dt">.</span><span class="d">4</span><span class="p">%</span></div>
<div class="t" style="left:773.70px;width:600px;text-align:center;top:2279.82px;font-size:26.8px;font-weight:400;color:#16345a;letter-spacing:0px;font-style:normal;"><span class="d">4</span><span class="d">4</span><span class="dt">.</span><span class="d">0</span><span class="p">%</span></div>
<div class="t" style="left:919.90px;width:600px;text-align:center;top:2279.82px;font-size:26.8px;font-weight:400;color:#12a1c9;letter-spacing:0px;font-style:normal;"><span class="d">6</span><span class="dt">.</span><span class="d">6</span><span class="p">%</span></div>
<div class="t" style="left:1062.70px;width:600px;text-align:center;top:2279.82px;font-size:26.8px;font-weight:400;color:#16345a;letter-spacing:0px;font-style:normal;"><span class="d">2</span><span class="d">2</span><span class="dt">.</span><span class="d">4</span><span class="p">%</span></div>
<div class="t" style="left:1218.50px;width:600px;text-align:center;top:2280.00px;font-size:26px;font-weight:700;color:#16345a;letter-spacing:0px;font-style:normal;-webkit-text-stroke:1.0px #16345a;transform:scaleX(1.06);transform-origin:50% 50%;">55</div>
<div class="t" style="left:-243.00px;width:600px;text-align:center;top:2347.99px;font-size:29.6px;font-weight:700;color:#12a1c9;letter-spacing:0px;font-style:normal;-webkit-text-stroke:0.6px #12a1c9;">30</div>
<div class="t" style="left:113.90px;top:2351.43px;font-size:23.9px;font-weight:700;color:#16345a;letter-spacing:0.83px;font-style:normal;-webkit-text-stroke:0.7px #16345a;transform:scaleX(1.045);transform-origin:0 0;">Aurora, CO</div>
<div class="t" style="left:177.70px;width:600px;text-align:center;top:2350.87px;font-size:26.8px;font-weight:400;color:#16345a;letter-spacing:0px;font-style:normal;"><span class="d">3</span><span class="d">8</span><span class="dt">.</span><span class="d">7</span></div>
<div class="t" style="left:328.40px;width:600px;text-align:center;top:2350.87px;font-size:26.8px;font-weight:400;color:#12a1c9;letter-spacing:0px;font-style:normal;"><span class="d">5</span><span class="d">7</span></div>
<div class="t" style="left:478.80px;width:600px;text-align:center;top:2350.87px;font-size:26.8px;font-weight:400;color:#16345a;letter-spacing:0px;font-style:normal;"><span class="d">3</span><span class="d">7</span><span class="dt">.</span><span class="d">8</span><span class="p">%</span></div>
<div class="t" style="left:625.90px;width:600px;text-align:center;top:2350.87px;font-size:26.8px;font-weight:400;color:#12a1c9;letter-spacing:0px;font-style:normal;"><span class="o"></span><span class="d">5</span><span class="dt">.</span><span class="d">8</span><span class="p">%</span></div>
<div class="t" style="left:773.70px;width:600px;text-align:center;top:2350.87px;font-size:26.8px;font-weight:400;color:#16345a;letter-spacing:0px;font-style:normal;"><span class="d">4</span><span class="o"></span><span class="dt">.</span><span class="o"></span><span class="p">%</span></div>
<div class="t" style="left:919.90px;width:600px;text-align:center;top:2350.87px;font-size:26.8px;font-weight:400;color:#12a1c9;letter-spacing:0px;font-style:normal;"><span class="d">6</span><span class="dt">.</span><span class="d">4</span><span class="p">%</span></div>
<div class="t" style="left:1062.70px;width:600px;text-align:center;top:2350.87px;font-size:26.8px;font-weight:400;color:#16345a;letter-spacing:0px;font-style:normal;"><span class="o"></span><span class="d">9</span><span class="dt">.</span><span class="d">8</span><span class="p">%</span></div>
<div class="t" style="left:1218.50px;width:600px;text-align:center;top:2351.05px;font-size:26px;font-weight:700;color:#16345a;letter-spacing:0px;font-style:normal;-webkit-text-stroke:1.0px #16345a;transform:scaleX(1.06);transform-origin:50% 50%;">55</div>
<div class="r" style="left:109px;top:2430px;width:1345px;height:57px;border-radius:16px;background:#07a0c9"></div>
<div class="r" style="left:88px;top:2421px;width:1358px;height:55px;border-radius:16px;background:#173555"></div>
<div class="t" style="left:116.50px;top:2433.90px;font-size:26px;font-weight:700;color:#fff;letter-spacing:0.6px;font-style:normal;-webkit-text-stroke:0.7px #fff;">Nationwide</div>
<div class="t" style="left:177.50px;width:600px;text-align:center;top:2433.92px;font-size:26.8px;font-weight:400;color:#fff;letter-spacing:0px;font-style:italic;-webkit-text-stroke:0.35px #fff;"><span class="d">3</span><span class="d">8</span><span class="dt">.</span><span class="d">7</span></div>
<div class="t" style="left:324.80px;width:600px;text-align:center;top:2433.92px;font-size:26.8px;font-weight:400;color:#fff;letter-spacing:0px;font-style:italic;-webkit-text-stroke:0.35px #fff;"><span class="d">5</span><span class="o oi"></span><span class="dt">.</span><span class="d">2</span></div>
<div class="t" style="left:477.50px;width:600px;text-align:center;top:2433.92px;font-size:26.8px;font-weight:400;color:#fff;letter-spacing:0px;font-style:italic;-webkit-text-stroke:0.35px #fff;"><span class="d">3</span><span class="d">2</span><span class="dt">.</span><span class="d">8</span><span class="p">%</span></div>
<div class="t" style="left:622.20px;width:600px;text-align:center;top:2433.92px;font-size:26.8px;font-weight:400;color:#fff;letter-spacing:0px;font-style:italic;-webkit-text-stroke:0.35px #fff;"><span class="o oi"></span><span class="d">0</span><span class="dt">.</span><span class="d">5</span><span class="p">%</span></div>
<div class="t" style="left:772.00px;width:600px;text-align:center;top:2433.92px;font-size:26.8px;font-weight:400;color:#fff;letter-spacing:0px;font-style:italic;-webkit-text-stroke:0.35px #fff;"><span class="d">3</span><span class="d">8</span><span class="dt">.</span><span class="d">6</span><span class="p">%</span></div>
<div class="t" style="left:918.90px;width:600px;text-align:center;top:2433.92px;font-size:26.8px;font-weight:400;color:#fff;letter-spacing:0px;font-style:italic;-webkit-text-stroke:0.35px #fff;"><span class="d">6</span><span class="dt">.</span><span class="d">2</span><span class="p">%</span></div>
<div class="t" style="left:1061.00px;width:600px;text-align:center;top:2433.92px;font-size:26.8px;font-weight:400;color:#fff;letter-spacing:0px;font-style:italic;-webkit-text-stroke:0.35px #fff;"><span class="o oi"></span><span class="d">7</span><span class="dt">.</span><span class="d">9</span><span class="p">%</span></div>
</body></html>
